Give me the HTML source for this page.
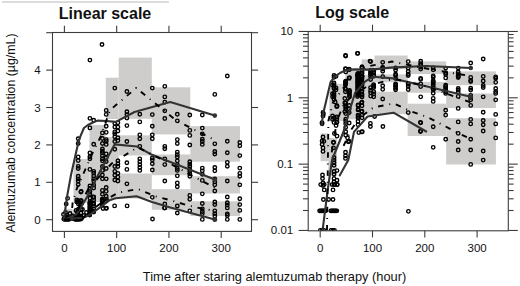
<!DOCTYPE html>
<html><head><meta charset="utf-8"><style>
html,body{margin:0;padding:0;background:#fff;}
svg{display:block;}
text{fill:#111;}
</style></head><body>
<svg width="520" height="286" viewBox="0 0 520 286" font-family="Liberation Sans, sans-serif">
<rect width="520" height="286" fill="#fff"/>
<rect x="2" y="1" width="167" height="2" fill="#dcdcdc"/>
<defs><clipPath id="cl"><rect x="52.5" y="32.5" width="199.0" height="198.9"/></clipPath><clipPath id="cr"><rect x="308.2" y="31.5" width="200.10000000000002" height="199.3"/></clipPath></defs>
<g clip-path="url(#cl)">
<rect x="118.70" y="57.60" width="33.10" height="61.20" fill="#cecdcb"/>
<rect x="118.70" y="135.30" width="33.10" height="20.20" fill="#cecdcb"/>
<rect x="118.70" y="173.50" width="33.10" height="25.00" fill="#cecdcb"/>
<rect x="151.80" y="87.30" width="38.50" height="47.10" fill="#cecdcb"/>
<rect x="151.80" y="154.50" width="38.50" height="20.70" fill="#cecdcb"/>
<rect x="151.80" y="189.20" width="38.50" height="20.57" fill="#cecdcb"/>
<rect x="190.30" y="126.20" width="49.70" height="35.50" fill="#cecdcb"/>
<rect x="190.30" y="176.20" width="49.70" height="17.30" fill="#cecdcb"/>
<rect x="190.30" y="201.28" width="49.70" height="14.73" fill="#cecdcb"/>
<rect x="105.80" y="77.70" width="12.90" height="41.30" fill="#cecdcb"/>
<rect x="105.80" y="137.00" width="12.90" height="62.00" fill="#cecdcb"/>
<rect x="89.50" y="125.00" width="16.30" height="77.00" fill="#cecdcb"/>
<rect x="73.50" y="159.00" width="16.00" height="44.00" fill="#cecdcb"/>
<rect x="64.80" y="208.79" width="7.70" height="6.77" fill="#cecdcb"/>
<rect x="72.50" y="210.44" width="8.70" height="6.79" fill="#cecdcb"/>
<circle cx="152.3" cy="88.1" r="1.75" fill="none" stroke="#000" stroke-width="1.35"/>
<circle cx="152.3" cy="114.6" r="1.75" fill="none" stroke="#000" stroke-width="1.35"/>
<circle cx="152.3" cy="126.2" r="1.75" fill="none" stroke="#000" stroke-width="1.35"/>
<circle cx="152.3" cy="134.8" r="1.75" fill="none" stroke="#000" stroke-width="1.35"/>
<circle cx="152.3" cy="138.7" r="1.75" fill="none" stroke="#000" stroke-width="1.35"/>
<circle cx="152.3" cy="157.9" r="1.75" fill="none" stroke="#000" stroke-width="1.35"/>
<circle cx="152.3" cy="159.8" r="1.75" fill="none" stroke="#000" stroke-width="1.35"/>
<circle cx="152.3" cy="163.7" r="1.75" fill="none" stroke="#000" stroke-width="1.35"/>
<circle cx="152.3" cy="170.0" r="1.75" fill="none" stroke="#000" stroke-width="1.35"/>
<circle cx="152.3" cy="197.3" r="1.75" fill="none" stroke="#000" stroke-width="1.35"/>
<circle cx="164.8" cy="86.3" r="1.75" fill="none" stroke="#000" stroke-width="1.35"/>
<circle cx="164.8" cy="96.9" r="1.75" fill="none" stroke="#000" stroke-width="1.35"/>
<circle cx="164.8" cy="102.1" r="1.75" fill="none" stroke="#000" stroke-width="1.35"/>
<circle cx="164.8" cy="110.8" r="1.75" fill="none" stroke="#000" stroke-width="1.35"/>
<circle cx="164.8" cy="118.5" r="1.75" fill="none" stroke="#000" stroke-width="1.35"/>
<circle cx="164.8" cy="146.3" r="1.75" fill="none" stroke="#000" stroke-width="1.35"/>
<circle cx="164.8" cy="148.7" r="1.75" fill="none" stroke="#000" stroke-width="1.35"/>
<circle cx="164.8" cy="158.8" r="1.75" fill="none" stroke="#000" stroke-width="1.35"/>
<circle cx="164.8" cy="164.6" r="1.75" fill="none" stroke="#000" stroke-width="1.35"/>
<circle cx="164.8" cy="181.0" r="1.75" fill="none" stroke="#000" stroke-width="1.35"/>
<circle cx="164.8" cy="204.0" r="1.75" fill="none" stroke="#000" stroke-width="1.35"/>
<circle cx="164.8" cy="207.9" r="1.75" fill="none" stroke="#000" stroke-width="1.35"/>
<circle cx="177.3" cy="114.2" r="1.75" fill="none" stroke="#000" stroke-width="1.35"/>
<circle cx="177.3" cy="120.8" r="1.75" fill="none" stroke="#000" stroke-width="1.35"/>
<circle cx="177.3" cy="139.6" r="1.75" fill="none" stroke="#000" stroke-width="1.35"/>
<circle cx="177.3" cy="143.5" r="1.75" fill="none" stroke="#000" stroke-width="1.35"/>
<circle cx="177.3" cy="152.1" r="1.75" fill="none" stroke="#000" stroke-width="1.35"/>
<circle cx="177.3" cy="154.6" r="1.75" fill="none" stroke="#000" stroke-width="1.35"/>
<circle cx="177.3" cy="156.9" r="1.75" fill="none" stroke="#000" stroke-width="1.35"/>
<circle cx="177.3" cy="160.8" r="1.75" fill="none" stroke="#000" stroke-width="1.35"/>
<circle cx="177.3" cy="164.6" r="1.75" fill="none" stroke="#000" stroke-width="1.35"/>
<circle cx="177.3" cy="168.5" r="1.75" fill="none" stroke="#000" stroke-width="1.35"/>
<circle cx="177.3" cy="170.4" r="1.75" fill="none" stroke="#000" stroke-width="1.35"/>
<circle cx="177.3" cy="175.8" r="1.75" fill="none" stroke="#000" stroke-width="1.35"/>
<circle cx="177.3" cy="182.9" r="1.75" fill="none" stroke="#000" stroke-width="1.35"/>
<circle cx="177.3" cy="186.7" r="1.75" fill="none" stroke="#000" stroke-width="1.35"/>
<circle cx="177.3" cy="206.0" r="1.75" fill="none" stroke="#000" stroke-width="1.35"/>
<circle cx="177.3" cy="213.0" r="1.75" fill="none" stroke="#000" stroke-width="1.35"/>
<circle cx="189.8" cy="115.0" r="1.75" fill="none" stroke="#000" stroke-width="1.35"/>
<circle cx="189.8" cy="130.4" r="1.75" fill="none" stroke="#000" stroke-width="1.35"/>
<circle cx="189.8" cy="135.4" r="1.75" fill="none" stroke="#000" stroke-width="1.35"/>
<circle cx="189.8" cy="145.0" r="1.75" fill="none" stroke="#000" stroke-width="1.35"/>
<circle cx="189.8" cy="161.7" r="1.75" fill="none" stroke="#000" stroke-width="1.35"/>
<circle cx="189.8" cy="164.2" r="1.75" fill="none" stroke="#000" stroke-width="1.35"/>
<circle cx="189.8" cy="166.5" r="1.75" fill="none" stroke="#000" stroke-width="1.35"/>
<circle cx="189.8" cy="169.4" r="1.75" fill="none" stroke="#000" stroke-width="1.35"/>
<circle cx="189.8" cy="171.3" r="1.75" fill="none" stroke="#000" stroke-width="1.35"/>
<circle cx="189.8" cy="173.8" r="1.75" fill="none" stroke="#000" stroke-width="1.35"/>
<circle cx="189.8" cy="176.2" r="1.75" fill="none" stroke="#000" stroke-width="1.35"/>
<circle cx="189.8" cy="195.4" r="1.75" fill="none" stroke="#000" stroke-width="1.35"/>
<circle cx="189.8" cy="199.2" r="1.75" fill="none" stroke="#000" stroke-width="1.35"/>
<circle cx="189.8" cy="210.8" r="1.75" fill="none" stroke="#000" stroke-width="1.35"/>
<circle cx="202.3" cy="115.0" r="1.75" fill="none" stroke="#000" stroke-width="1.35"/>
<circle cx="202.3" cy="128.1" r="1.75" fill="none" stroke="#000" stroke-width="1.35"/>
<circle cx="202.3" cy="133.8" r="1.75" fill="none" stroke="#000" stroke-width="1.35"/>
<circle cx="202.3" cy="139.2" r="1.75" fill="none" stroke="#000" stroke-width="1.35"/>
<circle cx="202.3" cy="141.5" r="1.75" fill="none" stroke="#000" stroke-width="1.35"/>
<circle cx="202.3" cy="144.4" r="1.75" fill="none" stroke="#000" stroke-width="1.35"/>
<circle cx="202.3" cy="168.1" r="1.75" fill="none" stroke="#000" stroke-width="1.35"/>
<circle cx="202.3" cy="170.8" r="1.75" fill="none" stroke="#000" stroke-width="1.35"/>
<circle cx="202.3" cy="174.2" r="1.75" fill="none" stroke="#000" stroke-width="1.35"/>
<circle cx="202.3" cy="180.4" r="1.75" fill="none" stroke="#000" stroke-width="1.35"/>
<circle cx="202.3" cy="193.8" r="1.75" fill="none" stroke="#000" stroke-width="1.35"/>
<circle cx="202.3" cy="203.5" r="1.75" fill="none" stroke="#000" stroke-width="1.35"/>
<circle cx="202.3" cy="208.8" r="1.75" fill="none" stroke="#000" stroke-width="1.35"/>
<circle cx="202.3" cy="211.5" r="1.75" fill="none" stroke="#000" stroke-width="1.35"/>
<circle cx="202.3" cy="213.6" r="1.75" fill="none" stroke="#000" stroke-width="1.35"/>
<circle cx="214.8" cy="94.4" r="1.75" fill="none" stroke="#000" stroke-width="1.35"/>
<circle cx="214.8" cy="143.8" r="1.75" fill="none" stroke="#000" stroke-width="1.35"/>
<circle cx="214.8" cy="151.5" r="1.75" fill="none" stroke="#000" stroke-width="1.35"/>
<circle cx="214.8" cy="154.0" r="1.75" fill="none" stroke="#000" stroke-width="1.35"/>
<circle cx="214.8" cy="167.5" r="1.75" fill="none" stroke="#000" stroke-width="1.35"/>
<circle cx="214.8" cy="170.8" r="1.75" fill="none" stroke="#000" stroke-width="1.35"/>
<circle cx="214.8" cy="179.0" r="1.75" fill="none" stroke="#000" stroke-width="1.35"/>
<circle cx="214.8" cy="181.9" r="1.75" fill="none" stroke="#000" stroke-width="1.35"/>
<circle cx="214.8" cy="184.8" r="1.75" fill="none" stroke="#000" stroke-width="1.35"/>
<circle cx="214.8" cy="191.0" r="1.75" fill="none" stroke="#000" stroke-width="1.35"/>
<circle cx="214.8" cy="202.0" r="1.75" fill="none" stroke="#000" stroke-width="1.35"/>
<circle cx="214.8" cy="204.6" r="1.75" fill="none" stroke="#000" stroke-width="1.35"/>
<circle cx="214.8" cy="210.8" r="1.75" fill="none" stroke="#000" stroke-width="1.35"/>
<circle cx="214.8" cy="213.6" r="1.75" fill="none" stroke="#000" stroke-width="1.35"/>
<circle cx="214.8" cy="216.0" r="1.75" fill="none" stroke="#000" stroke-width="1.35"/>
<circle cx="227.3" cy="76.0" r="1.75" fill="none" stroke="#000" stroke-width="1.35"/>
<circle cx="227.3" cy="141.2" r="1.75" fill="none" stroke="#000" stroke-width="1.35"/>
<circle cx="227.3" cy="152.7" r="1.75" fill="none" stroke="#000" stroke-width="1.35"/>
<circle cx="227.3" cy="162.3" r="1.75" fill="none" stroke="#000" stroke-width="1.35"/>
<circle cx="227.3" cy="166.2" r="1.75" fill="none" stroke="#000" stroke-width="1.35"/>
<circle cx="227.3" cy="181.0" r="1.75" fill="none" stroke="#000" stroke-width="1.35"/>
<circle cx="227.3" cy="197.0" r="1.75" fill="none" stroke="#000" stroke-width="1.35"/>
<circle cx="227.3" cy="202.7" r="1.75" fill="none" stroke="#000" stroke-width="1.35"/>
<circle cx="227.3" cy="205.0" r="1.75" fill="none" stroke="#000" stroke-width="1.35"/>
<circle cx="227.3" cy="207.9" r="1.75" fill="none" stroke="#000" stroke-width="1.35"/>
<circle cx="227.3" cy="213.8" r="1.75" fill="none" stroke="#000" stroke-width="1.35"/>
<circle cx="227.3" cy="215.4" r="1.75" fill="none" stroke="#000" stroke-width="1.35"/>
<circle cx="239.8" cy="142.5" r="1.75" fill="none" stroke="#000" stroke-width="1.35"/>
<circle cx="239.8" cy="145.8" r="1.75" fill="none" stroke="#000" stroke-width="1.35"/>
<circle cx="239.8" cy="155.6" r="1.75" fill="none" stroke="#000" stroke-width="1.35"/>
<circle cx="239.8" cy="168.1" r="1.75" fill="none" stroke="#000" stroke-width="1.35"/>
<circle cx="239.8" cy="173.3" r="1.75" fill="none" stroke="#000" stroke-width="1.35"/>
<circle cx="239.8" cy="176.2" r="1.75" fill="none" stroke="#000" stroke-width="1.35"/>
<circle cx="239.8" cy="184.8" r="1.75" fill="none" stroke="#000" stroke-width="1.35"/>
<circle cx="239.8" cy="198.7" r="1.75" fill="none" stroke="#000" stroke-width="1.35"/>
<circle cx="239.8" cy="204.6" r="1.75" fill="none" stroke="#000" stroke-width="1.35"/>
<circle cx="239.8" cy="210.4" r="1.75" fill="none" stroke="#000" stroke-width="1.35"/>
<circle cx="102.0" cy="44.5" r="1.75" fill="none" stroke="#000" stroke-width="1.35"/>
<circle cx="89.9" cy="60.1" r="1.75" fill="none" stroke="#000" stroke-width="1.35"/>
<circle cx="114.8" cy="88.1" r="1.75" fill="none" stroke="#000" stroke-width="1.35"/>
<circle cx="114.8" cy="123.3" r="1.75" fill="none" stroke="#000" stroke-width="1.35"/>
<circle cx="114.8" cy="127.1" r="1.75" fill="none" stroke="#000" stroke-width="1.35"/>
<circle cx="114.8" cy="131.9" r="1.75" fill="none" stroke="#000" stroke-width="1.35"/>
<circle cx="114.8" cy="133.8" r="1.75" fill="none" stroke="#000" stroke-width="1.35"/>
<circle cx="114.8" cy="136.7" r="1.75" fill="none" stroke="#000" stroke-width="1.35"/>
<circle cx="114.8" cy="141.5" r="1.75" fill="none" stroke="#000" stroke-width="1.35"/>
<circle cx="114.8" cy="149.2" r="1.75" fill="none" stroke="#000" stroke-width="1.35"/>
<circle cx="114.8" cy="166.5" r="1.75" fill="none" stroke="#000" stroke-width="1.35"/>
<circle cx="114.8" cy="171.3" r="1.75" fill="none" stroke="#000" stroke-width="1.35"/>
<circle cx="114.8" cy="175.2" r="1.75" fill="none" stroke="#000" stroke-width="1.35"/>
<circle cx="114.8" cy="180.0" r="1.75" fill="none" stroke="#000" stroke-width="1.35"/>
<circle cx="126.9" cy="91.5" r="1.75" fill="none" stroke="#000" stroke-width="1.35"/>
<circle cx="126.9" cy="111.7" r="1.75" fill="none" stroke="#000" stroke-width="1.35"/>
<circle cx="126.9" cy="114.6" r="1.75" fill="none" stroke="#000" stroke-width="1.35"/>
<circle cx="126.9" cy="118.1" r="1.75" fill="none" stroke="#000" stroke-width="1.35"/>
<circle cx="126.9" cy="125.6" r="1.75" fill="none" stroke="#000" stroke-width="1.35"/>
<circle cx="126.9" cy="141.5" r="1.75" fill="none" stroke="#000" stroke-width="1.35"/>
<circle cx="126.9" cy="162.7" r="1.75" fill="none" stroke="#000" stroke-width="1.35"/>
<circle cx="126.9" cy="169.4" r="1.75" fill="none" stroke="#000" stroke-width="1.35"/>
<circle cx="126.9" cy="183.8" r="1.75" fill="none" stroke="#000" stroke-width="1.35"/>
<circle cx="139.8" cy="114.2" r="1.75" fill="none" stroke="#000" stroke-width="1.35"/>
<circle cx="139.8" cy="121.9" r="1.75" fill="none" stroke="#000" stroke-width="1.35"/>
<circle cx="139.8" cy="134.8" r="1.75" fill="none" stroke="#000" stroke-width="1.35"/>
<circle cx="139.8" cy="138.7" r="1.75" fill="none" stroke="#000" stroke-width="1.35"/>
<circle cx="139.8" cy="146.3" r="1.75" fill="none" stroke="#000" stroke-width="1.35"/>
<circle cx="139.8" cy="158.8" r="1.75" fill="none" stroke="#000" stroke-width="1.35"/>
<circle cx="139.8" cy="161.7" r="1.75" fill="none" stroke="#000" stroke-width="1.35"/>
<circle cx="139.8" cy="164.6" r="1.75" fill="none" stroke="#000" stroke-width="1.35"/>
<circle cx="139.8" cy="167.5" r="1.75" fill="none" stroke="#000" stroke-width="1.35"/>
<circle cx="139.8" cy="170.4" r="1.75" fill="none" stroke="#000" stroke-width="1.35"/>
<circle cx="117.9" cy="122.7" r="1.75" fill="none" stroke="#000" stroke-width="1.35"/>
<circle cx="117.9" cy="127.1" r="1.75" fill="none" stroke="#000" stroke-width="1.35"/>
<circle cx="117.9" cy="131.0" r="1.75" fill="none" stroke="#000" stroke-width="1.35"/>
<circle cx="117.9" cy="137.7" r="1.75" fill="none" stroke="#000" stroke-width="1.35"/>
<circle cx="117.9" cy="140.6" r="1.75" fill="none" stroke="#000" stroke-width="1.35"/>
<circle cx="117.9" cy="160.8" r="1.75" fill="none" stroke="#000" stroke-width="1.35"/>
<circle cx="117.9" cy="163.7" r="1.75" fill="none" stroke="#000" stroke-width="1.35"/>
<circle cx="117.9" cy="166.5" r="1.75" fill="none" stroke="#000" stroke-width="1.35"/>
<circle cx="117.9" cy="173.3" r="1.75" fill="none" stroke="#000" stroke-width="1.35"/>
<circle cx="117.9" cy="177.1" r="1.75" fill="none" stroke="#000" stroke-width="1.35"/>
<circle cx="117.9" cy="181.0" r="1.75" fill="none" stroke="#000" stroke-width="1.35"/>
<circle cx="78.2" cy="138.7" r="1.75" fill="none" stroke="#000" stroke-width="1.35"/>
<circle cx="78.2" cy="143.5" r="1.75" fill="none" stroke="#000" stroke-width="1.35"/>
<circle cx="78.2" cy="156.9" r="1.75" fill="none" stroke="#000" stroke-width="1.35"/>
<circle cx="78.2" cy="160.6" r="1.75" fill="none" stroke="#000" stroke-width="1.35"/>
<circle cx="78.2" cy="166.3" r="1.75" fill="none" stroke="#000" stroke-width="1.35"/>
<circle cx="78.2" cy="168.5" r="1.75" fill="none" stroke="#000" stroke-width="1.35"/>
<circle cx="78.2" cy="176.2" r="1.75" fill="none" stroke="#000" stroke-width="1.35"/>
<circle cx="78.2" cy="178.8" r="1.75" fill="none" stroke="#000" stroke-width="1.35"/>
<circle cx="78.2" cy="181.0" r="1.75" fill="none" stroke="#000" stroke-width="1.35"/>
<circle cx="78.2" cy="184.6" r="1.75" fill="none" stroke="#000" stroke-width="1.35"/>
<circle cx="78.2" cy="201.0" r="1.75" fill="none" stroke="#000" stroke-width="1.35"/>
<circle cx="78.2" cy="203.8" r="1.75" fill="none" stroke="#000" stroke-width="1.35"/>
<circle cx="89.9" cy="118.3" r="1.75" fill="none" stroke="#000" stroke-width="1.35"/>
<circle cx="89.9" cy="127.9" r="1.75" fill="none" stroke="#000" stroke-width="1.35"/>
<circle cx="89.9" cy="152.9" r="1.75" fill="none" stroke="#000" stroke-width="1.35"/>
<circle cx="89.9" cy="156.7" r="1.75" fill="none" stroke="#000" stroke-width="1.35"/>
<circle cx="89.9" cy="158.7" r="1.75" fill="none" stroke="#000" stroke-width="1.35"/>
<circle cx="89.9" cy="169.4" r="1.75" fill="none" stroke="#000" stroke-width="1.35"/>
<circle cx="89.9" cy="188.5" r="1.75" fill="none" stroke="#000" stroke-width="1.35"/>
<circle cx="89.9" cy="191.3" r="1.75" fill="none" stroke="#000" stroke-width="1.35"/>
<circle cx="89.9" cy="194.2" r="1.75" fill="none" stroke="#000" stroke-width="1.35"/>
<circle cx="89.9" cy="198.1" r="1.75" fill="none" stroke="#000" stroke-width="1.35"/>
<circle cx="89.9" cy="201.9" r="1.75" fill="none" stroke="#000" stroke-width="1.35"/>
<circle cx="93.7" cy="120.2" r="1.75" fill="none" stroke="#000" stroke-width="1.35"/>
<circle cx="93.7" cy="144.2" r="1.75" fill="none" stroke="#000" stroke-width="1.35"/>
<circle cx="93.7" cy="171.3" r="1.75" fill="none" stroke="#000" stroke-width="1.35"/>
<circle cx="93.7" cy="173.1" r="1.75" fill="none" stroke="#000" stroke-width="1.35"/>
<circle cx="93.7" cy="176.0" r="1.75" fill="none" stroke="#000" stroke-width="1.35"/>
<circle cx="93.7" cy="178.8" r="1.75" fill="none" stroke="#000" stroke-width="1.35"/>
<circle cx="93.7" cy="181.0" r="1.75" fill="none" stroke="#000" stroke-width="1.35"/>
<circle cx="102.4" cy="132.9" r="1.75" fill="none" stroke="#000" stroke-width="1.35"/>
<circle cx="102.4" cy="138.5" r="1.75" fill="none" stroke="#000" stroke-width="1.35"/>
<circle cx="102.4" cy="143.5" r="1.75" fill="none" stroke="#000" stroke-width="1.35"/>
<circle cx="102.4" cy="149.0" r="1.75" fill="none" stroke="#000" stroke-width="1.35"/>
<circle cx="102.4" cy="151.2" r="1.75" fill="none" stroke="#000" stroke-width="1.35"/>
<circle cx="102.4" cy="152.9" r="1.75" fill="none" stroke="#000" stroke-width="1.35"/>
<circle cx="102.4" cy="155.8" r="1.75" fill="none" stroke="#000" stroke-width="1.35"/>
<circle cx="102.4" cy="158.7" r="1.75" fill="none" stroke="#000" stroke-width="1.35"/>
<circle cx="102.4" cy="160.8" r="1.75" fill="none" stroke="#000" stroke-width="1.35"/>
<circle cx="102.4" cy="166.5" r="1.75" fill="none" stroke="#000" stroke-width="1.35"/>
<circle cx="102.4" cy="170.4" r="1.75" fill="none" stroke="#000" stroke-width="1.35"/>
<circle cx="102.4" cy="175.0" r="1.75" fill="none" stroke="#000" stroke-width="1.35"/>
<circle cx="102.4" cy="178.8" r="1.75" fill="none" stroke="#000" stroke-width="1.35"/>
<circle cx="102.4" cy="190.4" r="1.75" fill="none" stroke="#000" stroke-width="1.35"/>
<circle cx="102.4" cy="194.2" r="1.75" fill="none" stroke="#000" stroke-width="1.35"/>
<circle cx="102.4" cy="200.0" r="1.75" fill="none" stroke="#000" stroke-width="1.35"/>
<circle cx="106.2" cy="110.4" r="1.75" fill="none" stroke="#000" stroke-width="1.35"/>
<circle cx="106.2" cy="114.4" r="1.75" fill="none" stroke="#000" stroke-width="1.35"/>
<circle cx="106.2" cy="126.2" r="1.75" fill="none" stroke="#000" stroke-width="1.35"/>
<circle cx="106.2" cy="132.3" r="1.75" fill="none" stroke="#000" stroke-width="1.35"/>
<circle cx="106.2" cy="139.6" r="1.75" fill="none" stroke="#000" stroke-width="1.35"/>
<circle cx="106.2" cy="141.3" r="1.75" fill="none" stroke="#000" stroke-width="1.35"/>
<circle cx="106.2" cy="144.4" r="1.75" fill="none" stroke="#000" stroke-width="1.35"/>
<circle cx="106.2" cy="153.8" r="1.75" fill="none" stroke="#000" stroke-width="1.35"/>
<circle cx="106.2" cy="157.7" r="1.75" fill="none" stroke="#000" stroke-width="1.35"/>
<circle cx="106.2" cy="161.5" r="1.75" fill="none" stroke="#000" stroke-width="1.35"/>
<circle cx="106.2" cy="168.5" r="1.75" fill="none" stroke="#000" stroke-width="1.35"/>
<circle cx="106.2" cy="178.8" r="1.75" fill="none" stroke="#000" stroke-width="1.35"/>
<circle cx="106.2" cy="187.5" r="1.75" fill="none" stroke="#000" stroke-width="1.35"/>
<circle cx="106.2" cy="191.3" r="1.75" fill="none" stroke="#000" stroke-width="1.35"/>
<circle cx="106.2" cy="196.2" r="1.75" fill="none" stroke="#000" stroke-width="1.35"/>
<circle cx="106.2" cy="201.0" r="1.75" fill="none" stroke="#000" stroke-width="1.35"/>
<circle cx="67.6" cy="198.3" r="1.75" fill="none" stroke="#000" stroke-width="1.35"/>
<circle cx="66.2" cy="203.9" r="1.75" fill="none" stroke="#000" stroke-width="1.35"/>
<circle cx="81.2" cy="191.3" r="1.75" fill="none" stroke="#000" stroke-width="1.35"/>
<circle cx="80.9" cy="192.0" r="1.75" fill="none" stroke="#000" stroke-width="1.35"/>
<circle cx="80.9" cy="200.4" r="1.75" fill="none" stroke="#000" stroke-width="1.35"/>
<circle cx="80.9" cy="203.9" r="1.75" fill="none" stroke="#000" stroke-width="1.35"/>
<circle cx="114.6" cy="205.9" r="1.75" fill="none" stroke="#000" stroke-width="1.35"/>
<circle cx="127.1" cy="205.9" r="1.75" fill="none" stroke="#000" stroke-width="1.35"/>
<circle cx="105.9" cy="208.3" r="1.75" fill="none" stroke="#000" stroke-width="1.35"/>
<circle cx="164.5" cy="208.1" r="1.75" fill="none" stroke="#000" stroke-width="1.35"/>
<circle cx="93.4" cy="197.2" r="1.75" fill="none" stroke="#000" stroke-width="1.35"/>
<circle cx="102.2" cy="199.2" r="1.75" fill="none" stroke="#000" stroke-width="1.35"/>
<circle cx="106.5" cy="199.2" r="1.75" fill="none" stroke="#000" stroke-width="1.35"/>
<circle cx="102.2" cy="201.0" r="1.75" fill="none" stroke="#000" stroke-width="1.35"/>
<circle cx="76.8" cy="199.8" r="1.75" fill="none" stroke="#000" stroke-width="1.35"/>
<circle cx="76.8" cy="202.1" r="1.75" fill="none" stroke="#000" stroke-width="1.35"/>
<circle cx="81.2" cy="201.5" r="1.75" fill="none" stroke="#000" stroke-width="1.35"/>
<circle cx="81.2" cy="203.6" r="1.75" fill="none" stroke="#000" stroke-width="1.35"/>
<circle cx="80.3" cy="205.5" r="1.75" fill="none" stroke="#000" stroke-width="1.35"/>
<circle cx="89.9" cy="203.1" r="1.75" fill="none" stroke="#000" stroke-width="1.35"/>
<circle cx="89.9" cy="204.5" r="1.75" fill="none" stroke="#000" stroke-width="1.35"/>
<circle cx="93.4" cy="204.1" r="1.75" fill="none" stroke="#000" stroke-width="1.35"/>
<circle cx="89.9" cy="206.3" r="1.75" fill="none" stroke="#000" stroke-width="1.35"/>
<circle cx="102.2" cy="203.1" r="1.75" fill="none" stroke="#000" stroke-width="1.35"/>
<circle cx="102.2" cy="205.0" r="1.75" fill="none" stroke="#000" stroke-width="1.35"/>
<circle cx="103.0" cy="208.5" r="1.75" fill="none" stroke="#000" stroke-width="1.35"/>
<circle cx="106.5" cy="208.2" r="1.75" fill="none" stroke="#000" stroke-width="1.35"/>
<circle cx="78.6" cy="208.9" r="1.75" fill="none" stroke="#000" stroke-width="1.35"/>
<circle cx="81.2" cy="209.8" r="1.75" fill="none" stroke="#000" stroke-width="1.35"/>
<circle cx="89.9" cy="208.2" r="1.75" fill="none" stroke="#000" stroke-width="1.35"/>
<circle cx="89.9" cy="209.5" r="1.75" fill="none" stroke="#000" stroke-width="1.35"/>
<circle cx="91.7" cy="210.4" r="1.75" fill="none" stroke="#000" stroke-width="1.35"/>
<circle cx="93.4" cy="211.4" r="1.75" fill="none" stroke="#000" stroke-width="1.35"/>
<circle cx="77.7" cy="211.7" r="1.75" fill="none" stroke="#000" stroke-width="1.35"/>
<circle cx="66.7" cy="217.1" r="1.75" fill="none" stroke="#000" stroke-width="1.35"/>
<circle cx="66.7" cy="217.4" r="1.75" fill="none" stroke="#000" stroke-width="1.35"/>
<circle cx="67.2" cy="217.7" r="1.75" fill="none" stroke="#000" stroke-width="1.35"/>
<circle cx="67.2" cy="217.9" r="1.75" fill="none" stroke="#000" stroke-width="1.35"/>
<circle cx="77.7" cy="211.8" r="1.75" fill="none" stroke="#000" stroke-width="1.35"/>
<circle cx="77.7" cy="213.1" r="1.75" fill="none" stroke="#000" stroke-width="1.35"/>
<circle cx="78.2" cy="215.0" r="1.75" fill="none" stroke="#000" stroke-width="1.35"/>
<circle cx="78.2" cy="215.4" r="1.75" fill="none" stroke="#000" stroke-width="1.35"/>
<circle cx="78.2" cy="215.8" r="1.75" fill="none" stroke="#000" stroke-width="1.35"/>
<circle cx="78.2" cy="216.1" r="1.75" fill="none" stroke="#000" stroke-width="1.35"/>
<circle cx="78.2" cy="216.8" r="1.75" fill="none" stroke="#000" stroke-width="1.35"/>
<circle cx="78.2" cy="217.1" r="1.75" fill="none" stroke="#000" stroke-width="1.35"/>
<circle cx="78.2" cy="217.4" r="1.75" fill="none" stroke="#000" stroke-width="1.35"/>
<circle cx="78.2" cy="217.7" r="1.75" fill="none" stroke="#000" stroke-width="1.35"/>
<circle cx="78.2" cy="217.9" r="1.75" fill="none" stroke="#000" stroke-width="1.35"/>
<circle cx="81.2" cy="216.7" r="1.75" fill="none" stroke="#000" stroke-width="1.35"/>
<circle cx="81.2" cy="217.6" r="1.75" fill="none" stroke="#000" stroke-width="1.35"/>
<circle cx="81.2" cy="217.9" r="1.75" fill="none" stroke="#000" stroke-width="1.35"/>
<circle cx="89.7" cy="214.0" r="1.75" fill="none" stroke="#000" stroke-width="1.35"/>
<circle cx="89.7" cy="214.7" r="1.75" fill="none" stroke="#000" stroke-width="1.35"/>
<circle cx="89.7" cy="215.1" r="1.75" fill="none" stroke="#000" stroke-width="1.35"/>
<circle cx="92.5" cy="211.6" r="1.75" fill="none" stroke="#000" stroke-width="1.35"/>
<circle cx="64.9" cy="217.9" r="1.75" fill="none" stroke="#000" stroke-width="1.35"/>
<circle cx="68.4" cy="217.9" r="1.75" fill="none" stroke="#000" stroke-width="1.35"/>
<circle cx="76.3" cy="217.9" r="1.75" fill="none" stroke="#000" stroke-width="1.35"/>
<circle cx="78.9" cy="217.9" r="1.75" fill="none" stroke="#000" stroke-width="1.35"/>
<circle cx="81.5" cy="217.9" r="1.75" fill="none" stroke="#000" stroke-width="1.35"/>
<circle cx="68.4" cy="218.2" r="1.75" fill="none" stroke="#000" stroke-width="1.35"/>
<circle cx="77.2" cy="218.2" r="1.75" fill="none" stroke="#000" stroke-width="1.35"/>
<circle cx="67.6" cy="218.6" r="1.75" fill="none" stroke="#000" stroke-width="1.35"/>
<circle cx="72.8" cy="218.6" r="1.75" fill="none" stroke="#000" stroke-width="1.35"/>
<circle cx="77.2" cy="218.6" r="1.75" fill="none" stroke="#000" stroke-width="1.35"/>
<circle cx="63.8" cy="219.0" r="1.75" fill="none" stroke="#000" stroke-width="1.35"/>
<circle cx="64.8" cy="219.0" r="1.75" fill="none" stroke="#000" stroke-width="1.35"/>
<circle cx="65.8" cy="219.0" r="1.75" fill="none" stroke="#000" stroke-width="1.35"/>
<circle cx="66.8" cy="219.0" r="1.75" fill="none" stroke="#000" stroke-width="1.35"/>
<circle cx="67.8" cy="219.0" r="1.75" fill="none" stroke="#000" stroke-width="1.35"/>
<circle cx="68.8" cy="219.0" r="1.75" fill="none" stroke="#000" stroke-width="1.35"/>
<circle cx="69.6" cy="219.0" r="1.75" fill="none" stroke="#000" stroke-width="1.35"/>
<circle cx="75.0" cy="219.0" r="1.75" fill="none" stroke="#000" stroke-width="1.35"/>
<circle cx="76.0" cy="219.0" r="1.75" fill="none" stroke="#000" stroke-width="1.35"/>
<circle cx="77.0" cy="219.0" r="1.75" fill="none" stroke="#000" stroke-width="1.35"/>
<circle cx="78.0" cy="219.0" r="1.75" fill="none" stroke="#000" stroke-width="1.35"/>
<circle cx="79.0" cy="219.0" r="1.75" fill="none" stroke="#000" stroke-width="1.35"/>
<circle cx="80.0" cy="219.0" r="1.75" fill="none" stroke="#000" stroke-width="1.35"/>
<circle cx="81.0" cy="219.0" r="1.75" fill="none" stroke="#000" stroke-width="1.35"/>
<circle cx="64.5" cy="219.3" r="1.75" fill="none" stroke="#000" stroke-width="1.35"/>
<circle cx="66.5" cy="219.3" r="1.75" fill="none" stroke="#000" stroke-width="1.35"/>
<circle cx="68.2" cy="219.3" r="1.75" fill="none" stroke="#000" stroke-width="1.35"/>
<circle cx="75.2" cy="219.3" r="1.75" fill="none" stroke="#000" stroke-width="1.35"/>
<circle cx="77.0" cy="219.3" r="1.75" fill="none" stroke="#000" stroke-width="1.35"/>
<circle cx="78.7" cy="219.3" r="1.75" fill="none" stroke="#000" stroke-width="1.35"/>
<circle cx="152.5" cy="219.0" r="1.75" fill="none" stroke="#000" stroke-width="1.35"/>
<circle cx="202.3" cy="219.4" r="1.75" fill="none" stroke="#000" stroke-width="1.35"/>
<circle cx="214.8" cy="219.4" r="1.75" fill="none" stroke="#000" stroke-width="1.35"/>
<circle cx="227.3" cy="219.4" r="1.75" fill="none" stroke="#000" stroke-width="1.35"/>
<circle cx="239.8" cy="219.4" r="1.75" fill="none" stroke="#000" stroke-width="1.35"/>
<circle cx="65.5" cy="212.3" r="1.75" fill="none" stroke="#000" stroke-width="1.35"/>
<circle cx="63.5" cy="214.5" r="1.75" fill="none" stroke="#000" stroke-width="1.35"/>
<circle cx="67.0" cy="215.5" r="1.75" fill="none" stroke="#000" stroke-width="1.35"/>
<circle cx="70.0" cy="213.5" r="1.75" fill="none" stroke="#000" stroke-width="1.35"/>
<circle cx="73.0" cy="216.0" r="1.75" fill="none" stroke="#000" stroke-width="1.35"/>
<circle cx="77.4" cy="215.0" r="1.75" fill="none" stroke="#000" stroke-width="1.35"/>
<circle cx="80.9" cy="213.0" r="1.75" fill="none" stroke="#000" stroke-width="1.35"/>
<circle cx="84.0" cy="215.5" r="1.75" fill="none" stroke="#000" stroke-width="1.35"/>
<circle cx="86.5" cy="212.5" r="1.75" fill="none" stroke="#000" stroke-width="1.35"/>
<circle cx="76.0" cy="210.5" r="1.75" fill="none" stroke="#000" stroke-width="1.35"/>
<circle cx="82.5" cy="209.5" r="1.75" fill="none" stroke="#000" stroke-width="1.35"/>
<circle cx="89.9" cy="186.0" r="1.75" fill="none" stroke="#000" stroke-width="1.35"/>
<circle cx="89.9" cy="189.0" r="1.75" fill="none" stroke="#000" stroke-width="1.35"/>
<circle cx="89.9" cy="192.0" r="1.75" fill="none" stroke="#000" stroke-width="1.35"/>
<circle cx="89.9" cy="195.0" r="1.75" fill="none" stroke="#000" stroke-width="1.35"/>
<circle cx="89.9" cy="204.0" r="1.75" fill="none" stroke="#000" stroke-width="1.35"/>
<circle cx="89.9" cy="207.0" r="1.75" fill="none" stroke="#000" stroke-width="1.35"/>
<circle cx="89.9" cy="210.0" r="1.75" fill="none" stroke="#000" stroke-width="1.35"/>
<circle cx="89.9" cy="213.0" r="1.75" fill="none" stroke="#000" stroke-width="1.35"/>
<circle cx="93.7" cy="185.0" r="1.75" fill="none" stroke="#000" stroke-width="1.35"/>
<circle cx="93.7" cy="188.0" r="1.75" fill="none" stroke="#000" stroke-width="1.35"/>
<circle cx="93.7" cy="197.0" r="1.75" fill="none" stroke="#000" stroke-width="1.35"/>
<circle cx="93.7" cy="200.0" r="1.75" fill="none" stroke="#000" stroke-width="1.35"/>
<circle cx="93.7" cy="203.0" r="1.75" fill="none" stroke="#000" stroke-width="1.35"/>
<circle cx="93.7" cy="206.0" r="1.75" fill="none" stroke="#000" stroke-width="1.35"/>
<circle cx="93.7" cy="209.0" r="1.75" fill="none" stroke="#000" stroke-width="1.35"/>
<circle cx="93.7" cy="212.0" r="1.75" fill="none" stroke="#000" stroke-width="1.35"/>
<polyline points="64.00,219.30 64.40,215.50 67.10,196.40 71.00,175.00 78.90,139.90 83.90,128.00 87.90,125.00 94.00,122.00 97.50,120.60 106.20,121.00 115.80,121.90 134.50,112.00 170.20,102.10 214.80,115.60" fill="none" stroke="#333" stroke-width="2.1" stroke-linejoin="round" stroke-linecap="round"/>
<circle cx="214.8" cy="115.6" r="2.3" fill="#333"/>
<polyline points="64.00,219.50 71.00,217.00 76.50,214.00 80.00,209.00 87.00,197.00 96.50,178.10 114.60,144.40 137.00,146.50 152.00,154.80 214.80,179.60" fill="none" stroke="#333" stroke-width="2.1" stroke-linejoin="round" stroke-linecap="round"/>
<circle cx="214.8" cy="179.6" r="2.3" fill="#333"/>
<polyline points="63.80,219.60 71.20,218.60 83.00,217.80 88.50,215.60 95.30,210.80 109.70,200.20 115.50,198.30 136.60,196.30 152.00,202.00 170.40,207.50 214.80,219.40" fill="none" stroke="#333" stroke-width="2.1" stroke-linejoin="round" stroke-linecap="round"/>
<circle cx="214.8" cy="219.4" r="2.3" fill="#333"/>
<polyline points="64.40,219.70 71.20,219.33 72.61,202.87 76.94,188.28 92.52,153.13 100.99,135.92 109.98,110.12 136.22,88.05 176.99,120.96 214.78,140.04" fill="none" stroke="#000" stroke-width="1.9" stroke-linejoin="round" stroke-linecap="butt" stroke-dasharray="5.5 5.9 1.0 5.8"/>
<polyline points="64.40,219.70 71.72,219.70 75.90,214.09 81.13,202.87 87.92,189.78 95.76,180.43 111.97,163.23 137.68,147.33 169.99,163.60 214.94,187.91" fill="none" stroke="#000" stroke-width="1.9" stroke-linejoin="round" stroke-linecap="butt" stroke-dasharray="5.5 5.9 1.0 5.8"/>
<polyline points="64.40,219.70 81.65,219.70 87.76,212.67 95.19,207.47 103.60,201.00 117.98,192.77 138.00,189.03 155.04,196.25 171.92,200.66 188.23,205.49 204.59,209.15 214.78,210.72" fill="none" stroke="#000" stroke-width="1.9" stroke-linejoin="round" stroke-linecap="butt" stroke-dasharray="5.5 5.9 1.0 5.8"/>
</g>
<g clip-path="url(#cr)">
<rect x="374.53" y="55.55" width="33.12" height="13.66" fill="#cecdcb"/>
<rect x="374.53" y="74.35" width="33.12" height="7.88" fill="#cecdcb"/>
<rect x="374.53" y="91.71" width="33.12" height="22.44" fill="#cecdcb"/>
<rect x="407.65" y="61.38" width="38.52" height="12.66" fill="#cecdcb"/>
<rect x="407.65" y="81.79" width="38.52" height="11.00" fill="#cecdcb"/>
<rect x="407.65" y="103.67" width="38.52" height="32.33" fill="#cecdcb"/>
<rect x="446.17" y="71.40" width="49.73" height="13.76" fill="#cecdcb"/>
<rect x="446.17" y="93.45" width="49.73" height="14.61" fill="#cecdcb"/>
<rect x="446.17" y="118.20" width="49.73" height="46.30" fill="#cecdcb"/>
<rect x="361.62" y="59.37" width="12.91" height="9.90" fill="#cecdcb"/>
<rect x="361.62" y="74.94" width="12.91" height="39.90" fill="#cecdcb"/>
<rect x="345.31" y="71.04" width="16.31" height="48.31" fill="#cecdcb"/>
<rect x="329.31" y="83.85" width="16.01" height="37.18" fill="#cecdcb"/>
<rect x="320.60" y="133.30" width="7.70" height="27.90" fill="#cecdcb"/>
<rect x="328.30" y="138.00" width="8.70" height="38.00" fill="#cecdcb"/>
<circle cx="408.2" cy="61.6" r="1.75" fill="none" stroke="#000" stroke-width="1.35"/>
<circle cx="408.2" cy="68.0" r="1.75" fill="none" stroke="#000" stroke-width="1.35"/>
<circle cx="408.2" cy="71.4" r="1.75" fill="none" stroke="#000" stroke-width="1.35"/>
<circle cx="408.2" cy="74.2" r="1.75" fill="none" stroke="#000" stroke-width="1.35"/>
<circle cx="408.2" cy="75.5" r="1.75" fill="none" stroke="#000" stroke-width="1.35"/>
<circle cx="408.2" cy="83.3" r="1.75" fill="none" stroke="#000" stroke-width="1.35"/>
<circle cx="408.2" cy="84.2" r="1.75" fill="none" stroke="#000" stroke-width="1.35"/>
<circle cx="408.2" cy="86.2" r="1.75" fill="none" stroke="#000" stroke-width="1.35"/>
<circle cx="408.2" cy="89.6" r="1.75" fill="none" stroke="#000" stroke-width="1.35"/>
<circle cx="408.2" cy="112.6" r="1.75" fill="none" stroke="#000" stroke-width="1.35"/>
<circle cx="420.7" cy="61.2" r="1.75" fill="none" stroke="#000" stroke-width="1.35"/>
<circle cx="420.7" cy="63.6" r="1.75" fill="none" stroke="#000" stroke-width="1.35"/>
<circle cx="420.7" cy="64.8" r="1.75" fill="none" stroke="#000" stroke-width="1.35"/>
<circle cx="420.7" cy="67.0" r="1.75" fill="none" stroke="#000" stroke-width="1.35"/>
<circle cx="420.7" cy="69.1" r="1.75" fill="none" stroke="#000" stroke-width="1.35"/>
<circle cx="420.7" cy="78.4" r="1.75" fill="none" stroke="#000" stroke-width="1.35"/>
<circle cx="420.7" cy="79.3" r="1.75" fill="none" stroke="#000" stroke-width="1.35"/>
<circle cx="420.7" cy="83.8" r="1.75" fill="none" stroke="#000" stroke-width="1.35"/>
<circle cx="420.7" cy="86.6" r="1.75" fill="none" stroke="#000" stroke-width="1.35"/>
<circle cx="420.7" cy="96.8" r="1.75" fill="none" stroke="#000" stroke-width="1.35"/>
<circle cx="420.7" cy="122.8" r="1.75" fill="none" stroke="#000" stroke-width="1.35"/>
<circle cx="420.7" cy="131.0" r="1.75" fill="none" stroke="#000" stroke-width="1.35"/>
<circle cx="433.2" cy="67.9" r="1.75" fill="none" stroke="#000" stroke-width="1.35"/>
<circle cx="433.2" cy="69.8" r="1.75" fill="none" stroke="#000" stroke-width="1.35"/>
<circle cx="433.2" cy="75.9" r="1.75" fill="none" stroke="#000" stroke-width="1.35"/>
<circle cx="433.2" cy="77.3" r="1.75" fill="none" stroke="#000" stroke-width="1.35"/>
<circle cx="433.2" cy="80.7" r="1.75" fill="none" stroke="#000" stroke-width="1.35"/>
<circle cx="433.2" cy="81.8" r="1.75" fill="none" stroke="#000" stroke-width="1.35"/>
<circle cx="433.2" cy="82.9" r="1.75" fill="none" stroke="#000" stroke-width="1.35"/>
<circle cx="433.2" cy="84.7" r="1.75" fill="none" stroke="#000" stroke-width="1.35"/>
<circle cx="433.2" cy="86.6" r="1.75" fill="none" stroke="#000" stroke-width="1.35"/>
<circle cx="433.2" cy="88.8" r="1.75" fill="none" stroke="#000" stroke-width="1.35"/>
<circle cx="433.2" cy="89.8" r="1.75" fill="none" stroke="#000" stroke-width="1.35"/>
<circle cx="433.2" cy="93.2" r="1.75" fill="none" stroke="#000" stroke-width="1.35"/>
<circle cx="433.2" cy="98.3" r="1.75" fill="none" stroke="#000" stroke-width="1.35"/>
<circle cx="433.2" cy="101.4" r="1.75" fill="none" stroke="#000" stroke-width="1.35"/>
<circle cx="433.2" cy="126.7" r="1.75" fill="none" stroke="#000" stroke-width="1.35"/>
<circle cx="433.2" cy="147.3" r="1.75" fill="none" stroke="#000" stroke-width="1.35"/>
<circle cx="445.7" cy="68.1" r="1.75" fill="none" stroke="#000" stroke-width="1.35"/>
<circle cx="445.7" cy="72.7" r="1.75" fill="none" stroke="#000" stroke-width="1.35"/>
<circle cx="445.7" cy="74.4" r="1.75" fill="none" stroke="#000" stroke-width="1.35"/>
<circle cx="445.7" cy="77.9" r="1.75" fill="none" stroke="#000" stroke-width="1.35"/>
<circle cx="445.7" cy="85.2" r="1.75" fill="none" stroke="#000" stroke-width="1.35"/>
<circle cx="445.7" cy="86.4" r="1.75" fill="none" stroke="#000" stroke-width="1.35"/>
<circle cx="445.7" cy="87.6" r="1.75" fill="none" stroke="#000" stroke-width="1.35"/>
<circle cx="445.7" cy="89.3" r="1.75" fill="none" stroke="#000" stroke-width="1.35"/>
<circle cx="445.7" cy="90.4" r="1.75" fill="none" stroke="#000" stroke-width="1.35"/>
<circle cx="445.7" cy="91.9" r="1.75" fill="none" stroke="#000" stroke-width="1.35"/>
<circle cx="445.7" cy="93.4" r="1.75" fill="none" stroke="#000" stroke-width="1.35"/>
<circle cx="445.7" cy="110.2" r="1.75" fill="none" stroke="#000" stroke-width="1.35"/>
<circle cx="445.7" cy="115.1" r="1.75" fill="none" stroke="#000" stroke-width="1.35"/>
<circle cx="445.7" cy="139.2" r="1.75" fill="none" stroke="#000" stroke-width="1.35"/>
<circle cx="458.2" cy="68.1" r="1.75" fill="none" stroke="#000" stroke-width="1.35"/>
<circle cx="458.2" cy="72.0" r="1.75" fill="none" stroke="#000" stroke-width="1.35"/>
<circle cx="458.2" cy="73.8" r="1.75" fill="none" stroke="#000" stroke-width="1.35"/>
<circle cx="458.2" cy="75.7" r="1.75" fill="none" stroke="#000" stroke-width="1.35"/>
<circle cx="458.2" cy="76.6" r="1.75" fill="none" stroke="#000" stroke-width="1.35"/>
<circle cx="458.2" cy="77.6" r="1.75" fill="none" stroke="#000" stroke-width="1.35"/>
<circle cx="458.2" cy="88.5" r="1.75" fill="none" stroke="#000" stroke-width="1.35"/>
<circle cx="458.2" cy="90.1" r="1.75" fill="none" stroke="#000" stroke-width="1.35"/>
<circle cx="458.2" cy="92.2" r="1.75" fill="none" stroke="#000" stroke-width="1.35"/>
<circle cx="458.2" cy="96.4" r="1.75" fill="none" stroke="#000" stroke-width="1.35"/>
<circle cx="458.2" cy="108.4" r="1.75" fill="none" stroke="#000" stroke-width="1.35"/>
<circle cx="458.2" cy="121.9" r="1.75" fill="none" stroke="#000" stroke-width="1.35"/>
<circle cx="458.2" cy="133.3" r="1.75" fill="none" stroke="#000" stroke-width="1.35"/>
<circle cx="458.2" cy="141.5" r="1.75" fill="none" stroke="#000" stroke-width="1.35"/>
<circle cx="458.2" cy="150.0" r="1.75" fill="none" stroke="#000" stroke-width="1.35"/>
<circle cx="470.7" cy="63.0" r="1.75" fill="none" stroke="#000" stroke-width="1.35"/>
<circle cx="470.7" cy="77.4" r="1.75" fill="none" stroke="#000" stroke-width="1.35"/>
<circle cx="470.7" cy="80.5" r="1.75" fill="none" stroke="#000" stroke-width="1.35"/>
<circle cx="470.7" cy="81.6" r="1.75" fill="none" stroke="#000" stroke-width="1.35"/>
<circle cx="470.7" cy="88.2" r="1.75" fill="none" stroke="#000" stroke-width="1.35"/>
<circle cx="470.7" cy="90.1" r="1.75" fill="none" stroke="#000" stroke-width="1.35"/>
<circle cx="470.7" cy="95.4" r="1.75" fill="none" stroke="#000" stroke-width="1.35"/>
<circle cx="470.7" cy="97.5" r="1.75" fill="none" stroke="#000" stroke-width="1.35"/>
<circle cx="470.7" cy="99.8" r="1.75" fill="none" stroke="#000" stroke-width="1.35"/>
<circle cx="470.7" cy="105.4" r="1.75" fill="none" stroke="#000" stroke-width="1.35"/>
<circle cx="470.7" cy="119.4" r="1.75" fill="none" stroke="#000" stroke-width="1.35"/>
<circle cx="470.7" cy="123.9" r="1.75" fill="none" stroke="#000" stroke-width="1.35"/>
<circle cx="470.7" cy="139.2" r="1.75" fill="none" stroke="#000" stroke-width="1.35"/>
<circle cx="470.7" cy="150.0" r="1.75" fill="none" stroke="#000" stroke-width="1.35"/>
<circle cx="470.7" cy="164.4" r="1.75" fill="none" stroke="#000" stroke-width="1.35"/>
<circle cx="483.2" cy="59.0" r="1.75" fill="none" stroke="#000" stroke-width="1.35"/>
<circle cx="483.2" cy="76.4" r="1.75" fill="none" stroke="#000" stroke-width="1.35"/>
<circle cx="483.2" cy="81.0" r="1.75" fill="none" stroke="#000" stroke-width="1.35"/>
<circle cx="483.2" cy="85.5" r="1.75" fill="none" stroke="#000" stroke-width="1.35"/>
<circle cx="483.2" cy="87.5" r="1.75" fill="none" stroke="#000" stroke-width="1.35"/>
<circle cx="483.2" cy="96.8" r="1.75" fill="none" stroke="#000" stroke-width="1.35"/>
<circle cx="483.2" cy="112.2" r="1.75" fill="none" stroke="#000" stroke-width="1.35"/>
<circle cx="483.2" cy="120.5" r="1.75" fill="none" stroke="#000" stroke-width="1.35"/>
<circle cx="483.2" cy="124.7" r="1.75" fill="none" stroke="#000" stroke-width="1.35"/>
<circle cx="483.2" cy="131.0" r="1.75" fill="none" stroke="#000" stroke-width="1.35"/>
<circle cx="483.2" cy="151.0" r="1.75" fill="none" stroke="#000" stroke-width="1.35"/>
<circle cx="483.2" cy="160.1" r="1.75" fill="none" stroke="#000" stroke-width="1.35"/>
<circle cx="495.7" cy="76.9" r="1.75" fill="none" stroke="#000" stroke-width="1.35"/>
<circle cx="495.7" cy="78.2" r="1.75" fill="none" stroke="#000" stroke-width="1.35"/>
<circle cx="495.7" cy="82.3" r="1.75" fill="none" stroke="#000" stroke-width="1.35"/>
<circle cx="495.7" cy="88.5" r="1.75" fill="none" stroke="#000" stroke-width="1.35"/>
<circle cx="495.7" cy="91.6" r="1.75" fill="none" stroke="#000" stroke-width="1.35"/>
<circle cx="495.7" cy="93.4" r="1.75" fill="none" stroke="#000" stroke-width="1.35"/>
<circle cx="495.7" cy="99.8" r="1.75" fill="none" stroke="#000" stroke-width="1.35"/>
<circle cx="495.7" cy="114.4" r="1.75" fill="none" stroke="#000" stroke-width="1.35"/>
<circle cx="495.7" cy="123.9" r="1.75" fill="none" stroke="#000" stroke-width="1.35"/>
<circle cx="495.7" cy="137.9" r="1.75" fill="none" stroke="#000" stroke-width="1.35"/>
<circle cx="357.8" cy="53.3" r="1.75" fill="none" stroke="#000" stroke-width="1.35"/>
<circle cx="345.7" cy="56.0" r="1.75" fill="none" stroke="#000" stroke-width="1.35"/>
<circle cx="370.6" cy="61.6" r="1.75" fill="none" stroke="#000" stroke-width="1.35"/>
<circle cx="370.6" cy="70.5" r="1.75" fill="none" stroke="#000" stroke-width="1.35"/>
<circle cx="370.6" cy="71.7" r="1.75" fill="none" stroke="#000" stroke-width="1.35"/>
<circle cx="370.6" cy="73.2" r="1.75" fill="none" stroke="#000" stroke-width="1.35"/>
<circle cx="370.6" cy="73.8" r="1.75" fill="none" stroke="#000" stroke-width="1.35"/>
<circle cx="370.6" cy="74.8" r="1.75" fill="none" stroke="#000" stroke-width="1.35"/>
<circle cx="370.6" cy="76.6" r="1.75" fill="none" stroke="#000" stroke-width="1.35"/>
<circle cx="370.6" cy="79.5" r="1.75" fill="none" stroke="#000" stroke-width="1.35"/>
<circle cx="370.6" cy="87.6" r="1.75" fill="none" stroke="#000" stroke-width="1.35"/>
<circle cx="370.6" cy="90.4" r="1.75" fill="none" stroke="#000" stroke-width="1.35"/>
<circle cx="370.6" cy="92.8" r="1.75" fill="none" stroke="#000" stroke-width="1.35"/>
<circle cx="370.6" cy="96.1" r="1.75" fill="none" stroke="#000" stroke-width="1.35"/>
<circle cx="382.7" cy="62.3" r="1.75" fill="none" stroke="#000" stroke-width="1.35"/>
<circle cx="382.7" cy="67.3" r="1.75" fill="none" stroke="#000" stroke-width="1.35"/>
<circle cx="382.7" cy="68.0" r="1.75" fill="none" stroke="#000" stroke-width="1.35"/>
<circle cx="382.7" cy="69.0" r="1.75" fill="none" stroke="#000" stroke-width="1.35"/>
<circle cx="382.7" cy="71.2" r="1.75" fill="none" stroke="#000" stroke-width="1.35"/>
<circle cx="382.7" cy="76.6" r="1.75" fill="none" stroke="#000" stroke-width="1.35"/>
<circle cx="382.7" cy="85.7" r="1.75" fill="none" stroke="#000" stroke-width="1.35"/>
<circle cx="382.7" cy="89.3" r="1.75" fill="none" stroke="#000" stroke-width="1.35"/>
<circle cx="382.7" cy="99.0" r="1.75" fill="none" stroke="#000" stroke-width="1.35"/>
<circle cx="395.6" cy="67.9" r="1.75" fill="none" stroke="#000" stroke-width="1.35"/>
<circle cx="395.6" cy="70.1" r="1.75" fill="none" stroke="#000" stroke-width="1.35"/>
<circle cx="395.6" cy="74.2" r="1.75" fill="none" stroke="#000" stroke-width="1.35"/>
<circle cx="395.6" cy="75.5" r="1.75" fill="none" stroke="#000" stroke-width="1.35"/>
<circle cx="395.6" cy="78.4" r="1.75" fill="none" stroke="#000" stroke-width="1.35"/>
<circle cx="395.6" cy="83.8" r="1.75" fill="none" stroke="#000" stroke-width="1.35"/>
<circle cx="395.6" cy="85.2" r="1.75" fill="none" stroke="#000" stroke-width="1.35"/>
<circle cx="395.6" cy="86.6" r="1.75" fill="none" stroke="#000" stroke-width="1.35"/>
<circle cx="395.6" cy="88.2" r="1.75" fill="none" stroke="#000" stroke-width="1.35"/>
<circle cx="395.6" cy="89.8" r="1.75" fill="none" stroke="#000" stroke-width="1.35"/>
<circle cx="373.7" cy="70.3" r="1.75" fill="none" stroke="#000" stroke-width="1.35"/>
<circle cx="373.7" cy="71.7" r="1.75" fill="none" stroke="#000" stroke-width="1.35"/>
<circle cx="373.7" cy="72.9" r="1.75" fill="none" stroke="#000" stroke-width="1.35"/>
<circle cx="373.7" cy="75.2" r="1.75" fill="none" stroke="#000" stroke-width="1.35"/>
<circle cx="373.7" cy="76.2" r="1.75" fill="none" stroke="#000" stroke-width="1.35"/>
<circle cx="373.7" cy="84.7" r="1.75" fill="none" stroke="#000" stroke-width="1.35"/>
<circle cx="373.7" cy="86.2" r="1.75" fill="none" stroke="#000" stroke-width="1.35"/>
<circle cx="373.7" cy="87.6" r="1.75" fill="none" stroke="#000" stroke-width="1.35"/>
<circle cx="373.7" cy="91.6" r="1.75" fill="none" stroke="#000" stroke-width="1.35"/>
<circle cx="373.7" cy="94.0" r="1.75" fill="none" stroke="#000" stroke-width="1.35"/>
<circle cx="373.7" cy="96.8" r="1.75" fill="none" stroke="#000" stroke-width="1.35"/>
<circle cx="334.0" cy="75.5" r="1.75" fill="none" stroke="#000" stroke-width="1.35"/>
<circle cx="334.0" cy="77.3" r="1.75" fill="none" stroke="#000" stroke-width="1.35"/>
<circle cx="334.0" cy="82.9" r="1.75" fill="none" stroke="#000" stroke-width="1.35"/>
<circle cx="334.0" cy="84.6" r="1.75" fill="none" stroke="#000" stroke-width="1.35"/>
<circle cx="334.0" cy="87.5" r="1.75" fill="none" stroke="#000" stroke-width="1.35"/>
<circle cx="334.0" cy="88.8" r="1.75" fill="none" stroke="#000" stroke-width="1.35"/>
<circle cx="334.0" cy="93.4" r="1.75" fill="none" stroke="#000" stroke-width="1.35"/>
<circle cx="334.0" cy="95.2" r="1.75" fill="none" stroke="#000" stroke-width="1.35"/>
<circle cx="334.0" cy="96.8" r="1.75" fill="none" stroke="#000" stroke-width="1.35"/>
<circle cx="334.0" cy="99.6" r="1.75" fill="none" stroke="#000" stroke-width="1.35"/>
<circle cx="334.0" cy="117.8" r="1.75" fill="none" stroke="#000" stroke-width="1.35"/>
<circle cx="334.0" cy="122.4" r="1.75" fill="none" stroke="#000" stroke-width="1.35"/>
<circle cx="345.7" cy="69.1" r="1.75" fill="none" stroke="#000" stroke-width="1.35"/>
<circle cx="345.7" cy="71.9" r="1.75" fill="none" stroke="#000" stroke-width="1.35"/>
<circle cx="345.7" cy="81.1" r="1.75" fill="none" stroke="#000" stroke-width="1.35"/>
<circle cx="345.7" cy="82.8" r="1.75" fill="none" stroke="#000" stroke-width="1.35"/>
<circle cx="345.7" cy="83.7" r="1.75" fill="none" stroke="#000" stroke-width="1.35"/>
<circle cx="345.7" cy="89.3" r="1.75" fill="none" stroke="#000" stroke-width="1.35"/>
<circle cx="345.7" cy="103.0" r="1.75" fill="none" stroke="#000" stroke-width="1.35"/>
<circle cx="345.7" cy="105.7" r="1.75" fill="none" stroke="#000" stroke-width="1.35"/>
<circle cx="345.7" cy="108.8" r="1.75" fill="none" stroke="#000" stroke-width="1.35"/>
<circle cx="345.7" cy="113.6" r="1.75" fill="none" stroke="#000" stroke-width="1.35"/>
<circle cx="345.7" cy="119.2" r="1.75" fill="none" stroke="#000" stroke-width="1.35"/>
<circle cx="349.5" cy="69.6" r="1.75" fill="none" stroke="#000" stroke-width="1.35"/>
<circle cx="349.5" cy="77.6" r="1.75" fill="none" stroke="#000" stroke-width="1.35"/>
<circle cx="349.5" cy="90.4" r="1.75" fill="none" stroke="#000" stroke-width="1.35"/>
<circle cx="349.5" cy="91.5" r="1.75" fill="none" stroke="#000" stroke-width="1.35"/>
<circle cx="349.5" cy="93.3" r="1.75" fill="none" stroke="#000" stroke-width="1.35"/>
<circle cx="349.5" cy="95.2" r="1.75" fill="none" stroke="#000" stroke-width="1.35"/>
<circle cx="349.5" cy="96.8" r="1.75" fill="none" stroke="#000" stroke-width="1.35"/>
<circle cx="358.2" cy="73.5" r="1.75" fill="none" stroke="#000" stroke-width="1.35"/>
<circle cx="358.2" cy="75.5" r="1.75" fill="none" stroke="#000" stroke-width="1.35"/>
<circle cx="358.2" cy="77.3" r="1.75" fill="none" stroke="#000" stroke-width="1.35"/>
<circle cx="358.2" cy="79.5" r="1.75" fill="none" stroke="#000" stroke-width="1.35"/>
<circle cx="358.2" cy="80.4" r="1.75" fill="none" stroke="#000" stroke-width="1.35"/>
<circle cx="358.2" cy="81.1" r="1.75" fill="none" stroke="#000" stroke-width="1.35"/>
<circle cx="358.2" cy="82.4" r="1.75" fill="none" stroke="#000" stroke-width="1.35"/>
<circle cx="358.2" cy="83.7" r="1.75" fill="none" stroke="#000" stroke-width="1.35"/>
<circle cx="358.2" cy="84.7" r="1.75" fill="none" stroke="#000" stroke-width="1.35"/>
<circle cx="358.2" cy="87.6" r="1.75" fill="none" stroke="#000" stroke-width="1.35"/>
<circle cx="358.2" cy="89.8" r="1.75" fill="none" stroke="#000" stroke-width="1.35"/>
<circle cx="358.2" cy="92.7" r="1.75" fill="none" stroke="#000" stroke-width="1.35"/>
<circle cx="358.2" cy="95.2" r="1.75" fill="none" stroke="#000" stroke-width="1.35"/>
<circle cx="358.2" cy="104.8" r="1.75" fill="none" stroke="#000" stroke-width="1.35"/>
<circle cx="358.2" cy="108.8" r="1.75" fill="none" stroke="#000" stroke-width="1.35"/>
<circle cx="358.2" cy="116.3" r="1.75" fill="none" stroke="#000" stroke-width="1.35"/>
<circle cx="362.0" cy="66.9" r="1.75" fill="none" stroke="#000" stroke-width="1.35"/>
<circle cx="362.0" cy="68.0" r="1.75" fill="none" stroke="#000" stroke-width="1.35"/>
<circle cx="362.0" cy="71.4" r="1.75" fill="none" stroke="#000" stroke-width="1.35"/>
<circle cx="362.0" cy="73.3" r="1.75" fill="none" stroke="#000" stroke-width="1.35"/>
<circle cx="362.0" cy="75.9" r="1.75" fill="none" stroke="#000" stroke-width="1.35"/>
<circle cx="362.0" cy="76.5" r="1.75" fill="none" stroke="#000" stroke-width="1.35"/>
<circle cx="362.0" cy="77.6" r="1.75" fill="none" stroke="#000" stroke-width="1.35"/>
<circle cx="362.0" cy="81.5" r="1.75" fill="none" stroke="#000" stroke-width="1.35"/>
<circle cx="362.0" cy="83.2" r="1.75" fill="none" stroke="#000" stroke-width="1.35"/>
<circle cx="362.0" cy="85.1" r="1.75" fill="none" stroke="#000" stroke-width="1.35"/>
<circle cx="362.0" cy="88.8" r="1.75" fill="none" stroke="#000" stroke-width="1.35"/>
<circle cx="362.0" cy="95.2" r="1.75" fill="none" stroke="#000" stroke-width="1.35"/>
<circle cx="362.0" cy="102.1" r="1.75" fill="none" stroke="#000" stroke-width="1.35"/>
<circle cx="362.0" cy="105.7" r="1.75" fill="none" stroke="#000" stroke-width="1.35"/>
<circle cx="362.0" cy="111.2" r="1.75" fill="none" stroke="#000" stroke-width="1.35"/>
<circle cx="362.0" cy="117.8" r="1.75" fill="none" stroke="#000" stroke-width="1.35"/>
<circle cx="323.4" cy="113.9" r="1.75" fill="none" stroke="#000" stroke-width="1.35"/>
<circle cx="322.0" cy="122.6" r="1.75" fill="none" stroke="#000" stroke-width="1.35"/>
<circle cx="337.0" cy="105.7" r="1.75" fill="none" stroke="#000" stroke-width="1.35"/>
<circle cx="336.7" cy="106.4" r="1.75" fill="none" stroke="#000" stroke-width="1.35"/>
<circle cx="336.7" cy="116.9" r="1.75" fill="none" stroke="#000" stroke-width="1.35"/>
<circle cx="336.7" cy="122.6" r="1.75" fill="none" stroke="#000" stroke-width="1.35"/>
<circle cx="370.4" cy="126.5" r="1.75" fill="none" stroke="#000" stroke-width="1.35"/>
<circle cx="382.9" cy="126.5" r="1.75" fill="none" stroke="#000" stroke-width="1.35"/>
<circle cx="361.7" cy="131.9" r="1.75" fill="none" stroke="#000" stroke-width="1.35"/>
<circle cx="420.4" cy="131.5" r="1.75" fill="none" stroke="#000" stroke-width="1.35"/>
<circle cx="349.2" cy="112.5" r="1.75" fill="none" stroke="#000" stroke-width="1.35"/>
<circle cx="358.0" cy="115.1" r="1.75" fill="none" stroke="#000" stroke-width="1.35"/>
<circle cx="362.3" cy="115.1" r="1.75" fill="none" stroke="#000" stroke-width="1.35"/>
<circle cx="358.0" cy="117.7" r="1.75" fill="none" stroke="#000" stroke-width="1.35"/>
<circle cx="332.6" cy="116.0" r="1.75" fill="none" stroke="#000" stroke-width="1.35"/>
<circle cx="332.6" cy="119.5" r="1.75" fill="none" stroke="#000" stroke-width="1.35"/>
<circle cx="337.0" cy="118.6" r="1.75" fill="none" stroke="#000" stroke-width="1.35"/>
<circle cx="337.0" cy="122.1" r="1.75" fill="none" stroke="#000" stroke-width="1.35"/>
<circle cx="336.1" cy="125.6" r="1.75" fill="none" stroke="#000" stroke-width="1.35"/>
<circle cx="345.7" cy="121.2" r="1.75" fill="none" stroke="#000" stroke-width="1.35"/>
<circle cx="345.7" cy="123.8" r="1.75" fill="none" stroke="#000" stroke-width="1.35"/>
<circle cx="349.2" cy="123.0" r="1.75" fill="none" stroke="#000" stroke-width="1.35"/>
<circle cx="345.7" cy="127.3" r="1.75" fill="none" stroke="#000" stroke-width="1.35"/>
<circle cx="358.0" cy="121.2" r="1.75" fill="none" stroke="#000" stroke-width="1.35"/>
<circle cx="358.0" cy="124.7" r="1.75" fill="none" stroke="#000" stroke-width="1.35"/>
<circle cx="358.8" cy="132.6" r="1.75" fill="none" stroke="#000" stroke-width="1.35"/>
<circle cx="362.3" cy="131.7" r="1.75" fill="none" stroke="#000" stroke-width="1.35"/>
<circle cx="334.4" cy="133.5" r="1.75" fill="none" stroke="#000" stroke-width="1.35"/>
<circle cx="337.0" cy="136.1" r="1.75" fill="none" stroke="#000" stroke-width="1.35"/>
<circle cx="345.7" cy="131.7" r="1.75" fill="none" stroke="#000" stroke-width="1.35"/>
<circle cx="345.7" cy="135.2" r="1.75" fill="none" stroke="#000" stroke-width="1.35"/>
<circle cx="347.5" cy="137.8" r="1.75" fill="none" stroke="#000" stroke-width="1.35"/>
<circle cx="349.2" cy="141.3" r="1.75" fill="none" stroke="#000" stroke-width="1.35"/>
<circle cx="333.5" cy="142.2" r="1.75" fill="none" stroke="#000" stroke-width="1.35"/>
<circle cx="322.5" cy="175.0" r="1.75" fill="none" stroke="#000" stroke-width="1.35"/>
<circle cx="322.5" cy="178.5" r="1.75" fill="none" stroke="#000" stroke-width="1.35"/>
<circle cx="323.0" cy="182.8" r="1.75" fill="none" stroke="#000" stroke-width="1.35"/>
<circle cx="323.0" cy="185.5" r="1.75" fill="none" stroke="#000" stroke-width="1.35"/>
<circle cx="333.5" cy="142.6" r="1.75" fill="none" stroke="#000" stroke-width="1.35"/>
<circle cx="333.5" cy="147.9" r="1.75" fill="none" stroke="#000" stroke-width="1.35"/>
<circle cx="334.0" cy="157.5" r="1.75" fill="none" stroke="#000" stroke-width="1.35"/>
<circle cx="334.0" cy="160.1" r="1.75" fill="none" stroke="#000" stroke-width="1.35"/>
<circle cx="334.0" cy="162.7" r="1.75" fill="none" stroke="#000" stroke-width="1.35"/>
<circle cx="334.0" cy="165.3" r="1.75" fill="none" stroke="#000" stroke-width="1.35"/>
<circle cx="334.0" cy="171.5" r="1.75" fill="none" stroke="#000" stroke-width="1.35"/>
<circle cx="334.0" cy="174.1" r="1.75" fill="none" stroke="#000" stroke-width="1.35"/>
<circle cx="334.0" cy="178.5" r="1.75" fill="none" stroke="#000" stroke-width="1.35"/>
<circle cx="334.0" cy="182.0" r="1.75" fill="none" stroke="#000" stroke-width="1.35"/>
<circle cx="334.0" cy="184.6" r="1.75" fill="none" stroke="#000" stroke-width="1.35"/>
<circle cx="337.0" cy="170.6" r="1.75" fill="none" stroke="#000" stroke-width="1.35"/>
<circle cx="337.0" cy="180.2" r="1.75" fill="none" stroke="#000" stroke-width="1.35"/>
<circle cx="337.0" cy="184.6" r="1.75" fill="none" stroke="#000" stroke-width="1.35"/>
<circle cx="345.5" cy="152.2" r="1.75" fill="none" stroke="#000" stroke-width="1.35"/>
<circle cx="345.5" cy="155.7" r="1.75" fill="none" stroke="#000" stroke-width="1.35"/>
<circle cx="345.5" cy="158.4" r="1.75" fill="none" stroke="#000" stroke-width="1.35"/>
<circle cx="348.3" cy="141.7" r="1.75" fill="none" stroke="#000" stroke-width="1.35"/>
<circle cx="320.7" cy="184.6" r="1.75" fill="none" stroke="#000" stroke-width="1.35"/>
<circle cx="324.2" cy="184.6" r="1.75" fill="none" stroke="#000" stroke-width="1.35"/>
<circle cx="332.1" cy="184.6" r="1.75" fill="none" stroke="#000" stroke-width="1.35"/>
<circle cx="334.7" cy="184.6" r="1.75" fill="none" stroke="#000" stroke-width="1.35"/>
<circle cx="337.3" cy="184.6" r="1.75" fill="none" stroke="#000" stroke-width="1.35"/>
<circle cx="324.2" cy="189.9" r="1.75" fill="none" stroke="#000" stroke-width="1.35"/>
<circle cx="333.0" cy="189.9" r="1.75" fill="none" stroke="#000" stroke-width="1.35"/>
<circle cx="323.4" cy="199.5" r="1.75" fill="none" stroke="#000" stroke-width="1.35"/>
<circle cx="328.6" cy="199.5" r="1.75" fill="none" stroke="#000" stroke-width="1.35"/>
<circle cx="333.0" cy="199.5" r="1.75" fill="none" stroke="#000" stroke-width="1.35"/>
<circle cx="319.6" cy="210.8" r="1.75" fill="none" stroke="#000" stroke-width="1.35"/>
<circle cx="320.6" cy="210.8" r="1.75" fill="none" stroke="#000" stroke-width="1.35"/>
<circle cx="321.6" cy="210.8" r="1.75" fill="none" stroke="#000" stroke-width="1.35"/>
<circle cx="322.6" cy="210.8" r="1.75" fill="none" stroke="#000" stroke-width="1.35"/>
<circle cx="323.6" cy="210.8" r="1.75" fill="none" stroke="#000" stroke-width="1.35"/>
<circle cx="324.6" cy="210.8" r="1.75" fill="none" stroke="#000" stroke-width="1.35"/>
<circle cx="325.4" cy="210.8" r="1.75" fill="none" stroke="#000" stroke-width="1.35"/>
<circle cx="330.8" cy="210.8" r="1.75" fill="none" stroke="#000" stroke-width="1.35"/>
<circle cx="331.8" cy="210.8" r="1.75" fill="none" stroke="#000" stroke-width="1.35"/>
<circle cx="332.8" cy="210.8" r="1.75" fill="none" stroke="#000" stroke-width="1.35"/>
<circle cx="333.8" cy="210.8" r="1.75" fill="none" stroke="#000" stroke-width="1.35"/>
<circle cx="334.8" cy="210.8" r="1.75" fill="none" stroke="#000" stroke-width="1.35"/>
<circle cx="335.8" cy="210.8" r="1.75" fill="none" stroke="#000" stroke-width="1.35"/>
<circle cx="336.8" cy="210.8" r="1.75" fill="none" stroke="#000" stroke-width="1.35"/>
<circle cx="320.3" cy="230.4" r="1.75" fill="none" stroke="#000" stroke-width="1.35"/>
<circle cx="322.3" cy="230.4" r="1.75" fill="none" stroke="#000" stroke-width="1.35"/>
<circle cx="324.0" cy="230.4" r="1.75" fill="none" stroke="#000" stroke-width="1.35"/>
<circle cx="331.0" cy="230.4" r="1.75" fill="none" stroke="#000" stroke-width="1.35"/>
<circle cx="332.8" cy="230.4" r="1.75" fill="none" stroke="#000" stroke-width="1.35"/>
<circle cx="334.5" cy="230.4" r="1.75" fill="none" stroke="#000" stroke-width="1.35"/>
<circle cx="408.4" cy="211.3" r="1.75" fill="none" stroke="#000" stroke-width="1.35"/>
<circle cx="332.5" cy="85.0" r="1.75" fill="none" stroke="#000" stroke-width="1.35"/>
<circle cx="332.5" cy="93.7" r="1.75" fill="none" stroke="#000" stroke-width="1.35"/>
<circle cx="336.0" cy="76.3" r="1.75" fill="none" stroke="#000" stroke-width="1.35"/>
<circle cx="336.0" cy="87.9" r="1.75" fill="none" stroke="#000" stroke-width="1.35"/>
<circle cx="336.0" cy="89.8" r="1.75" fill="none" stroke="#000" stroke-width="1.35"/>
<circle cx="345.4" cy="68.7" r="1.75" fill="none" stroke="#000" stroke-width="1.35"/>
<circle cx="345.4" cy="82.1" r="1.75" fill="none" stroke="#000" stroke-width="1.35"/>
<circle cx="345.4" cy="85.0" r="1.75" fill="none" stroke="#000" stroke-width="1.35"/>
<circle cx="345.4" cy="88.8" r="1.75" fill="none" stroke="#000" stroke-width="1.35"/>
<circle cx="345.4" cy="91.7" r="1.75" fill="none" stroke="#000" stroke-width="1.35"/>
<circle cx="349.0" cy="69.2" r="1.75" fill="none" stroke="#000" stroke-width="1.35"/>
<circle cx="349.0" cy="78.3" r="1.75" fill="none" stroke="#000" stroke-width="1.35"/>
<circle cx="349.0" cy="92.7" r="1.75" fill="none" stroke="#000" stroke-width="1.35"/>
<circle cx="357.5" cy="74.0" r="1.75" fill="none" stroke="#000" stroke-width="1.35"/>
<circle cx="357.5" cy="76.5" r="1.75" fill="none" stroke="#000" stroke-width="1.35"/>
<circle cx="357.5" cy="79.0" r="1.75" fill="none" stroke="#000" stroke-width="1.35"/>
<circle cx="357.5" cy="81.5" r="1.75" fill="none" stroke="#000" stroke-width="1.35"/>
<circle cx="357.5" cy="84.0" r="1.75" fill="none" stroke="#000" stroke-width="1.35"/>
<circle cx="357.5" cy="86.5" r="1.75" fill="none" stroke="#000" stroke-width="1.35"/>
<circle cx="357.5" cy="89.0" r="1.75" fill="none" stroke="#000" stroke-width="1.35"/>
<circle cx="357.5" cy="91.5" r="1.75" fill="none" stroke="#000" stroke-width="1.35"/>
<circle cx="357.5" cy="94.0" r="1.75" fill="none" stroke="#000" stroke-width="1.35"/>
<circle cx="357.5" cy="96.5" r="1.75" fill="none" stroke="#000" stroke-width="1.35"/>
<circle cx="362.0" cy="67.0" r="1.75" fill="none" stroke="#000" stroke-width="1.35"/>
<circle cx="362.0" cy="73.3" r="1.75" fill="none" stroke="#000" stroke-width="1.35"/>
<circle cx="362.0" cy="76.0" r="1.75" fill="none" stroke="#000" stroke-width="1.35"/>
<circle cx="362.0" cy="79.0" r="1.75" fill="none" stroke="#000" stroke-width="1.35"/>
<circle cx="362.0" cy="82.0" r="1.75" fill="none" stroke="#000" stroke-width="1.35"/>
<circle cx="362.0" cy="85.0" r="1.75" fill="none" stroke="#000" stroke-width="1.35"/>
<circle cx="362.0" cy="88.0" r="1.75" fill="none" stroke="#000" stroke-width="1.35"/>
<circle cx="362.0" cy="91.0" r="1.75" fill="none" stroke="#000" stroke-width="1.35"/>
<circle cx="362.0" cy="94.0" r="1.75" fill="none" stroke="#000" stroke-width="1.35"/>
<circle cx="362.0" cy="97.0" r="1.75" fill="none" stroke="#000" stroke-width="1.35"/>
<circle cx="370.0" cy="61.1" r="1.75" fill="none" stroke="#000" stroke-width="1.35"/>
<circle cx="345.5" cy="55.5" r="1.75" fill="none" stroke="#000" stroke-width="1.35"/>
<circle cx="357.4" cy="53.4" r="1.75" fill="none" stroke="#000" stroke-width="1.35"/>
<circle cx="370.4" cy="123.3" r="1.75" fill="none" stroke="#000" stroke-width="1.35"/>
<circle cx="374.6" cy="116.5" r="1.75" fill="none" stroke="#000" stroke-width="1.35"/>
<circle cx="420.4" cy="122.3" r="1.75" fill="none" stroke="#000" stroke-width="1.35"/>
<circle cx="332.6" cy="96.7" r="1.75" fill="none" stroke="#000" stroke-width="1.35"/>
<circle cx="335.2" cy="102.0" r="1.75" fill="none" stroke="#000" stroke-width="1.35"/>
<circle cx="337.0" cy="106.4" r="1.75" fill="none" stroke="#000" stroke-width="1.35"/>
<circle cx="344.8" cy="98.5" r="1.75" fill="none" stroke="#000" stroke-width="1.35"/>
<circle cx="344.8" cy="102.9" r="1.75" fill="none" stroke="#000" stroke-width="1.35"/>
<circle cx="345.7" cy="107.2" r="1.75" fill="none" stroke="#000" stroke-width="1.35"/>
<circle cx="344.8" cy="111.6" r="1.75" fill="none" stroke="#000" stroke-width="1.35"/>
<circle cx="349.2" cy="105.5" r="1.75" fill="none" stroke="#000" stroke-width="1.35"/>
<circle cx="349.2" cy="109.0" r="1.75" fill="none" stroke="#000" stroke-width="1.35"/>
<circle cx="358.0" cy="105.5" r="1.75" fill="none" stroke="#000" stroke-width="1.35"/>
<circle cx="361.5" cy="102.9" r="1.75" fill="none" stroke="#000" stroke-width="1.35"/>
<circle cx="358.0" cy="109.9" r="1.75" fill="none" stroke="#000" stroke-width="1.35"/>
<circle cx="361.5" cy="111.6" r="1.75" fill="none" stroke="#000" stroke-width="1.35"/>
<circle cx="323.0" cy="112.5" r="1.75" fill="none" stroke="#000" stroke-width="1.35"/>
<circle cx="323.0" cy="116.0" r="1.75" fill="none" stroke="#000" stroke-width="1.35"/>
<circle cx="322.1" cy="123.8" r="1.75" fill="none" stroke="#000" stroke-width="1.35"/>
<circle cx="323.0" cy="137.0" r="1.75" fill="none" stroke="#000" stroke-width="1.35"/>
<circle cx="323.9" cy="141.3" r="1.75" fill="none" stroke="#000" stroke-width="1.35"/>
<circle cx="322.1" cy="140.9" r="1.75" fill="none" stroke="#000" stroke-width="1.35"/>
<circle cx="322.1" cy="144.4" r="1.75" fill="none" stroke="#000" stroke-width="1.35"/>
<circle cx="323.0" cy="147.9" r="1.75" fill="none" stroke="#000" stroke-width="1.35"/>
<circle cx="323.0" cy="151.4" r="1.75" fill="none" stroke="#000" stroke-width="1.35"/>
<polyline points="321.60,125.00 323.20,113.40 330.60,81.90 334.80,76.70 340.00,73.00 345.30,70.40 354.20,69.40 371.50,69.60 390.30,67.60 426.10,66.00 470.80,68.00" fill="none" stroke="#333" stroke-width="2.1" stroke-linejoin="round" stroke-linecap="round"/>
<circle cx="470.8" cy="68.0" r="2.3" fill="#333"/>
<polyline points="322.50,230.80 327.70,190.00 332.00,160.00 343.40,132.00 348.60,114.00 355.00,93.00 365.30,81.40 373.20,76.70 392.90,78.40 407.90,81.90 470.70,96.70" fill="none" stroke="#333" stroke-width="2.1" stroke-linejoin="round" stroke-linecap="round"/>
<circle cx="470.7" cy="96.7" r="2.3" fill="#333"/>
<polyline points="339.70,175.40 348.30,160.00 354.00,131.90 367.50,116.50 393.50,112.70 426.20,131.50" fill="none" stroke="#333" stroke-width="2.1" stroke-linejoin="round" stroke-linecap="round"/>
<polyline points="327.00,230.46 328.41,120.80 332.75,102.82 348.34,81.19 356.81,74.57 365.81,66.83 392.06,61.55 432.85,69.84 470.67,76.02" fill="none" stroke="#000" stroke-width="1.9" stroke-linejoin="round" stroke-linecap="butt" stroke-dasharray="5.5 5.9 1.0 5.8"/>
<polyline points="331.71,152.45 336.94,120.80 343.74,104.23 351.58,96.39 367.79,85.93 393.52,78.78 425.85,86.12 470.82,102.48" fill="none" stroke="#000" stroke-width="1.9" stroke-linejoin="round" stroke-linecap="butt" stroke-dasharray="5.5 5.9 1.0 5.8"/>
<polyline points="343.58,145.95 351.00,130.00 359.43,117.77 373.81,107.26 393.84,103.52 410.89,111.25 427.78,117.25 444.10,125.67 460.47,134.26 470.67,138.91" fill="none" stroke="#000" stroke-width="1.9" stroke-linejoin="round" stroke-linecap="butt" stroke-dasharray="5.5 5.9 1.0 5.8"/>
</g>
<rect x="52.5" y="32.5" width="199.0" height="198.9" fill="none" stroke="#3c3c3c" stroke-width="1.1"/>
<line x1="64.40" y1="231.40" x2="64.40" y2="238.00" stroke="#3c3c3c" stroke-width="1.1"/>
<line x1="64.40" y1="25.70" x2="64.40" y2="32.50" stroke="#3c3c3c" stroke-width="1.1"/>
<text x="64.40" y="252.30" font-size="11.5" text-anchor="middle" font-weight="normal">0</text>
<line x1="116.67" y1="231.40" x2="116.67" y2="238.00" stroke="#3c3c3c" stroke-width="1.1"/>
<line x1="116.67" y1="25.70" x2="116.67" y2="32.50" stroke="#3c3c3c" stroke-width="1.1"/>
<text x="116.67" y="252.30" font-size="11.5" text-anchor="middle" font-weight="normal">100</text>
<line x1="168.94" y1="231.40" x2="168.94" y2="238.00" stroke="#3c3c3c" stroke-width="1.1"/>
<line x1="168.94" y1="25.70" x2="168.94" y2="32.50" stroke="#3c3c3c" stroke-width="1.1"/>
<text x="168.94" y="252.30" font-size="11.5" text-anchor="middle" font-weight="normal">200</text>
<line x1="221.21" y1="231.40" x2="221.21" y2="238.00" stroke="#3c3c3c" stroke-width="1.1"/>
<line x1="221.21" y1="25.70" x2="221.21" y2="32.50" stroke="#3c3c3c" stroke-width="1.1"/>
<text x="221.21" y="252.30" font-size="11.5" text-anchor="middle" font-weight="normal">300</text>
<line x1="46.20" y1="219.70" x2="52.50" y2="219.70" stroke="#3c3c3c" stroke-width="1.1"/>
<line x1="251.50" y1="219.70" x2="258.10" y2="219.70" stroke="#3c3c3c" stroke-width="1.1"/>
<text x="40.60" y="223.70" font-size="11.5" text-anchor="end" font-weight="normal">0</text>
<line x1="46.20" y1="182.30" x2="52.50" y2="182.30" stroke="#3c3c3c" stroke-width="1.1"/>
<line x1="251.50" y1="182.30" x2="258.10" y2="182.30" stroke="#3c3c3c" stroke-width="1.1"/>
<text x="40.60" y="186.30" font-size="11.5" text-anchor="end" font-weight="normal">1</text>
<line x1="46.20" y1="144.90" x2="52.50" y2="144.90" stroke="#3c3c3c" stroke-width="1.1"/>
<line x1="251.50" y1="144.90" x2="258.10" y2="144.90" stroke="#3c3c3c" stroke-width="1.1"/>
<text x="40.60" y="148.90" font-size="11.5" text-anchor="end" font-weight="normal">2</text>
<line x1="46.20" y1="107.50" x2="52.50" y2="107.50" stroke="#3c3c3c" stroke-width="1.1"/>
<line x1="251.50" y1="107.50" x2="258.10" y2="107.50" stroke="#3c3c3c" stroke-width="1.1"/>
<text x="40.60" y="111.50" font-size="11.5" text-anchor="end" font-weight="normal">3</text>
<line x1="46.20" y1="70.10" x2="52.50" y2="70.10" stroke="#3c3c3c" stroke-width="1.1"/>
<line x1="251.50" y1="70.10" x2="258.10" y2="70.10" stroke="#3c3c3c" stroke-width="1.1"/>
<text x="40.60" y="74.10" font-size="11.5" text-anchor="end" font-weight="normal">4</text>
<line x1="46.20" y1="32.70" x2="52.50" y2="32.70" stroke="#3c3c3c" stroke-width="1.1"/>
<line x1="251.50" y1="32.70" x2="258.10" y2="32.70" stroke="#3c3c3c" stroke-width="1.1"/>
<rect x="308.2" y="31.5" width="200.10000000000002" height="199.3" fill="none" stroke="#3c3c3c" stroke-width="1.1"/>
<line x1="320.20" y1="230.80" x2="320.20" y2="237.40" stroke="#3c3c3c" stroke-width="1.1"/>
<line x1="320.20" y1="24.70" x2="320.20" y2="31.50" stroke="#3c3c3c" stroke-width="1.1"/>
<text x="320.20" y="252.30" font-size="11.5" text-anchor="middle" font-weight="normal">0</text>
<line x1="372.50" y1="230.80" x2="372.50" y2="237.40" stroke="#3c3c3c" stroke-width="1.1"/>
<line x1="372.50" y1="24.70" x2="372.50" y2="31.50" stroke="#3c3c3c" stroke-width="1.1"/>
<text x="372.50" y="252.30" font-size="11.5" text-anchor="middle" font-weight="normal">100</text>
<line x1="424.80" y1="230.80" x2="424.80" y2="237.40" stroke="#3c3c3c" stroke-width="1.1"/>
<line x1="424.80" y1="24.70" x2="424.80" y2="31.50" stroke="#3c3c3c" stroke-width="1.1"/>
<text x="424.80" y="252.30" font-size="11.5" text-anchor="middle" font-weight="normal">200</text>
<line x1="477.10" y1="230.80" x2="477.10" y2="237.40" stroke="#3c3c3c" stroke-width="1.1"/>
<line x1="477.10" y1="24.70" x2="477.10" y2="31.50" stroke="#3c3c3c" stroke-width="1.1"/>
<text x="477.10" y="252.30" font-size="11.5" text-anchor="middle" font-weight="normal">300</text>
<line x1="298.60" y1="230.46" x2="308.20" y2="230.46" stroke="#3c3c3c" stroke-width="1.1"/>
<line x1="508.30" y1="230.46" x2="517.80" y2="230.46" stroke="#3c3c3c" stroke-width="1.1"/>
<text x="293.20" y="234.46" font-size="11.5" text-anchor="end" font-weight="normal">0.01</text>
<line x1="303.00" y1="210.49" x2="308.20" y2="210.49" stroke="#3c3c3c" stroke-width="1.1"/>
<line x1="508.30" y1="210.49" x2="513.60" y2="210.49" stroke="#3c3c3c" stroke-width="1.1"/>
<line x1="303.00" y1="198.81" x2="308.20" y2="198.81" stroke="#3c3c3c" stroke-width="1.1"/>
<line x1="508.30" y1="198.81" x2="513.60" y2="198.81" stroke="#3c3c3c" stroke-width="1.1"/>
<line x1="303.00" y1="190.53" x2="308.20" y2="190.53" stroke="#3c3c3c" stroke-width="1.1"/>
<line x1="508.30" y1="190.53" x2="513.60" y2="190.53" stroke="#3c3c3c" stroke-width="1.1"/>
<line x1="303.00" y1="184.10" x2="308.20" y2="184.10" stroke="#3c3c3c" stroke-width="1.1"/>
<line x1="508.30" y1="184.10" x2="513.60" y2="184.10" stroke="#3c3c3c" stroke-width="1.1"/>
<line x1="303.00" y1="178.85" x2="308.20" y2="178.85" stroke="#3c3c3c" stroke-width="1.1"/>
<line x1="508.30" y1="178.85" x2="513.60" y2="178.85" stroke="#3c3c3c" stroke-width="1.1"/>
<line x1="303.00" y1="174.40" x2="308.20" y2="174.40" stroke="#3c3c3c" stroke-width="1.1"/>
<line x1="508.30" y1="174.40" x2="513.60" y2="174.40" stroke="#3c3c3c" stroke-width="1.1"/>
<line x1="303.00" y1="170.56" x2="308.20" y2="170.56" stroke="#3c3c3c" stroke-width="1.1"/>
<line x1="508.30" y1="170.56" x2="513.60" y2="170.56" stroke="#3c3c3c" stroke-width="1.1"/>
<line x1="303.00" y1="167.17" x2="308.20" y2="167.17" stroke="#3c3c3c" stroke-width="1.1"/>
<line x1="508.30" y1="167.17" x2="513.60" y2="167.17" stroke="#3c3c3c" stroke-width="1.1"/>
<line x1="298.60" y1="164.13" x2="308.20" y2="164.13" stroke="#3c3c3c" stroke-width="1.1"/>
<line x1="508.30" y1="164.13" x2="517.80" y2="164.13" stroke="#3c3c3c" stroke-width="1.1"/>
<text x="293.20" y="168.13" font-size="11.5" text-anchor="end" font-weight="normal">0.1</text>
<line x1="303.00" y1="144.16" x2="308.20" y2="144.16" stroke="#3c3c3c" stroke-width="1.1"/>
<line x1="508.30" y1="144.16" x2="513.60" y2="144.16" stroke="#3c3c3c" stroke-width="1.1"/>
<line x1="303.00" y1="132.48" x2="308.20" y2="132.48" stroke="#3c3c3c" stroke-width="1.1"/>
<line x1="508.30" y1="132.48" x2="513.60" y2="132.48" stroke="#3c3c3c" stroke-width="1.1"/>
<line x1="303.00" y1="124.20" x2="308.20" y2="124.20" stroke="#3c3c3c" stroke-width="1.1"/>
<line x1="508.30" y1="124.20" x2="513.60" y2="124.20" stroke="#3c3c3c" stroke-width="1.1"/>
<line x1="303.00" y1="117.77" x2="308.20" y2="117.77" stroke="#3c3c3c" stroke-width="1.1"/>
<line x1="508.30" y1="117.77" x2="513.60" y2="117.77" stroke="#3c3c3c" stroke-width="1.1"/>
<line x1="303.00" y1="112.52" x2="308.20" y2="112.52" stroke="#3c3c3c" stroke-width="1.1"/>
<line x1="508.30" y1="112.52" x2="513.60" y2="112.52" stroke="#3c3c3c" stroke-width="1.1"/>
<line x1="303.00" y1="108.07" x2="308.20" y2="108.07" stroke="#3c3c3c" stroke-width="1.1"/>
<line x1="508.30" y1="108.07" x2="513.60" y2="108.07" stroke="#3c3c3c" stroke-width="1.1"/>
<line x1="303.00" y1="104.23" x2="308.20" y2="104.23" stroke="#3c3c3c" stroke-width="1.1"/>
<line x1="508.30" y1="104.23" x2="513.60" y2="104.23" stroke="#3c3c3c" stroke-width="1.1"/>
<line x1="303.00" y1="100.84" x2="308.20" y2="100.84" stroke="#3c3c3c" stroke-width="1.1"/>
<line x1="508.30" y1="100.84" x2="513.60" y2="100.84" stroke="#3c3c3c" stroke-width="1.1"/>
<line x1="298.60" y1="97.80" x2="308.20" y2="97.80" stroke="#3c3c3c" stroke-width="1.1"/>
<line x1="508.30" y1="97.80" x2="517.80" y2="97.80" stroke="#3c3c3c" stroke-width="1.1"/>
<text x="293.20" y="101.80" font-size="11.5" text-anchor="end" font-weight="normal">1</text>
<line x1="303.00" y1="77.83" x2="308.20" y2="77.83" stroke="#3c3c3c" stroke-width="1.1"/>
<line x1="508.30" y1="77.83" x2="513.60" y2="77.83" stroke="#3c3c3c" stroke-width="1.1"/>
<line x1="303.00" y1="66.15" x2="308.20" y2="66.15" stroke="#3c3c3c" stroke-width="1.1"/>
<line x1="508.30" y1="66.15" x2="513.60" y2="66.15" stroke="#3c3c3c" stroke-width="1.1"/>
<line x1="303.00" y1="57.87" x2="308.20" y2="57.87" stroke="#3c3c3c" stroke-width="1.1"/>
<line x1="508.30" y1="57.87" x2="513.60" y2="57.87" stroke="#3c3c3c" stroke-width="1.1"/>
<line x1="303.00" y1="51.44" x2="308.20" y2="51.44" stroke="#3c3c3c" stroke-width="1.1"/>
<line x1="508.30" y1="51.44" x2="513.60" y2="51.44" stroke="#3c3c3c" stroke-width="1.1"/>
<line x1="303.00" y1="46.19" x2="308.20" y2="46.19" stroke="#3c3c3c" stroke-width="1.1"/>
<line x1="508.30" y1="46.19" x2="513.60" y2="46.19" stroke="#3c3c3c" stroke-width="1.1"/>
<line x1="303.00" y1="41.74" x2="308.20" y2="41.74" stroke="#3c3c3c" stroke-width="1.1"/>
<line x1="508.30" y1="41.74" x2="513.60" y2="41.74" stroke="#3c3c3c" stroke-width="1.1"/>
<line x1="303.00" y1="37.90" x2="308.20" y2="37.90" stroke="#3c3c3c" stroke-width="1.1"/>
<line x1="508.30" y1="37.90" x2="513.60" y2="37.90" stroke="#3c3c3c" stroke-width="1.1"/>
<line x1="303.00" y1="34.51" x2="308.20" y2="34.51" stroke="#3c3c3c" stroke-width="1.1"/>
<line x1="508.30" y1="34.51" x2="513.60" y2="34.51" stroke="#3c3c3c" stroke-width="1.1"/>
<line x1="298.60" y1="31.47" x2="308.20" y2="31.47" stroke="#3c3c3c" stroke-width="1.1"/>
<line x1="508.30" y1="31.47" x2="517.80" y2="31.47" stroke="#3c3c3c" stroke-width="1.1"/>
<text x="293.20" y="35.47" font-size="11.5" text-anchor="end" font-weight="normal">10</text>
<text x="105.00" y="18.50" font-size="16" text-anchor="middle" font-weight="bold">Linear scale</text>
<text x="352.20" y="17.50" font-size="16" text-anchor="middle" font-weight="bold">Log scale</text>
<text x="274.50" y="281.20" font-size="12.8" text-anchor="middle" font-weight="normal">Time after staring alemtuzumab therapy (hour)</text>
<text x="0" y="0" font-size="12" text-anchor="middle" textLength="199" lengthAdjust="spacingAndGlyphs" transform="translate(14.6,133.0) rotate(-90)">Alemtuzumab concentration (&#181;g/mL)</text>
</svg>
</body></html>
